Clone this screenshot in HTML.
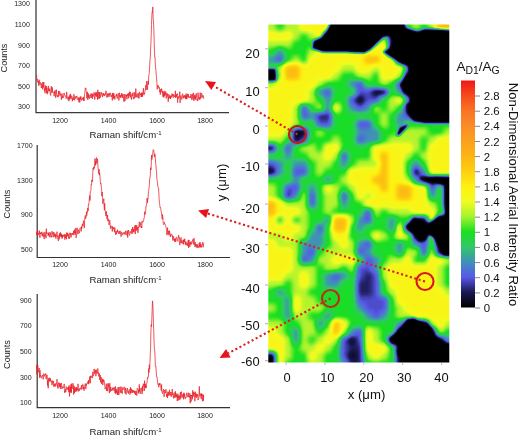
<!DOCTYPE html>
<html><head><meta charset="utf-8"><title>Raman map</title>
<style>
html,body{margin:0;padding:0;background:#fff;}
svg{display:block;font-family:"Liberation Sans",Arial,sans-serif;}
.sp text{font-size:7px;fill:#222;}
.ax{stroke:#3a3a3a;stroke-width:1.25;fill:none;}
.tr{fill:none;stroke:#e8202a;stroke-width:0.75;stroke-linejoin:round;}
.hm text{font-size:12.9px;fill:#111;}
.cb text{font-size:11.4px;fill:#111;}
</style></head>
<body>
<svg width="520" height="435" viewBox="0 0 520 435">
<defs>
<filter id="b1" x="-5%" y="-5%" width="110%" height="110%" color-interpolation-filters="sRGB"><feGaussianBlur stdDeviation="2.4"/></filter>
<filter id="cm" x="-5%" y="-5%" width="110%" height="110%" color-interpolation-filters="sRGB">
<feGaussianBlur stdDeviation="1.3"/>
<feComponentTransfer>
<feFuncR type="table" tableValues="0.000 0.094 0.345 0.251 0.188 0.094 0.643 0.941 1.000 0.992 0.992 0.988 0.984 0.980 0.965 0.941"/>
<feFuncG type="table" tableValues="0.000 0.094 0.345 0.565 0.784 0.878 0.949 0.988 0.941 0.816 0.706 0.627 0.549 0.455 0.290 0.094"/>
<feFuncB type="table" tableValues="0.000 0.314 0.910 0.722 0.408 0.125 0.188 0.125 0.063 0.063 0.078 0.118 0.157 0.141 0.110 0.094"/>
</feComponentTransfer>
</filter>
<clipPath id="hc"><rect x="268.3" y="24.4" width="181" height="338.1"/></clipPath>
<linearGradient id="cbg" x1="0" y1="0" x2="0" y2="1"><stop offset="0.0000" stop-color="#f01818"/><stop offset="0.0667" stop-color="#f64a1c"/><stop offset="0.1333" stop-color="#fa7424"/><stop offset="0.2000" stop-color="#fb8c28"/><stop offset="0.2667" stop-color="#fca01e"/><stop offset="0.3333" stop-color="#fdb414"/><stop offset="0.4000" stop-color="#fdd010"/><stop offset="0.4667" stop-color="#fff010"/><stop offset="0.5333" stop-color="#f0fc20"/><stop offset="0.6000" stop-color="#a4f230"/><stop offset="0.6667" stop-color="#18e020"/><stop offset="0.7333" stop-color="#30c868"/><stop offset="0.8000" stop-color="#4090b8"/><stop offset="0.8667" stop-color="#5858e8"/><stop offset="0.9333" stop-color="#181850"/><stop offset="1.0000" stop-color="#000000"/></linearGradient>
</defs>
<rect width="520" height="435" fill="#fff"/>

<g class="sp">
<path class="ax" d="M36 0V112.5H229"/>
<polyline class="tr" points="36.6,74.7 36.9,80.3 37.2,79.6 37.5,79.1 37.8,82.4 38.1,80.9 38.4,81.3 38.8,85.9 39.1,79.7 39.4,81.0 39.7,84.3 40.0,83.6 40.3,82.3 40.6,84.5 41.0,84.8 41.3,88.0 41.6,83.5 41.9,84.8 42.2,84.8 42.5,89.3 42.8,82.1 43.2,85.9 43.5,87.5 43.8,82.0 44.1,87.2 44.4,90.7 44.7,88.5 45.0,93.2 45.4,85.5 45.7,89.2 46.0,90.2 46.3,86.1 46.6,92.8 46.9,87.8 47.2,94.2 47.6,91.1 47.9,92.5 48.2,86.4 48.5,85.9 48.8,91.0 49.1,88.4 49.4,91.0 49.8,89.4 50.1,92.7 50.4,95.1 50.7,95.5 51.0,90.5 51.3,86.2 51.6,91.0 52.0,93.0 52.3,87.4 52.6,91.5 52.9,92.0 53.2,91.8 53.5,92.8 53.8,93.4 54.2,96.2 54.5,91.7 54.8,93.2 55.1,90.3 55.4,94.1 55.7,97.9 56.0,93.8 56.4,89.6 56.7,94.7 57.0,96.0 57.3,96.8 57.6,96.6 57.9,95.0 58.2,97.2 58.5,90.9 58.9,95.3 59.2,94.5 59.5,91.4 59.8,91.4 60.1,95.6 60.4,94.4 60.7,93.6 61.1,95.9 61.4,99.7 61.7,94.1 62.0,93.6 62.3,94.9 62.6,98.2 62.9,96.5 63.3,97.6 63.6,97.0 63.9,93.3 64.2,92.9 64.5,95.0 64.8,95.4 65.1,95.2 65.5,96.9 65.8,97.2 66.1,98.7 66.4,97.3 66.7,91.9 67.0,95.3 67.3,98.3 67.7,98.6 68.0,99.7 68.3,96.8 68.6,96.8 68.9,101.2 69.2,96.7 69.5,99.3 69.9,94.6 70.2,97.7 70.5,94.0 70.8,99.2 71.1,98.9 71.4,97.5 71.7,95.7 72.1,96.9 72.4,101.2 72.7,97.9 73.0,98.3 73.3,99.3 73.6,99.9 73.9,94.2 74.3,99.3 74.6,100.3 74.9,96.8 75.2,98.0 75.5,98.5 75.8,96.4 76.1,97.1 76.5,97.4 76.8,95.9 77.1,97.5 77.4,99.6 77.7,98.9 78.0,99.3 78.3,97.5 78.7,100.5 79.0,102.3 79.3,97.7 79.6,101.0 79.9,102.4 80.2,96.8 80.5,99.4 80.9,96.4 81.2,98.8 81.5,100.2 81.8,100.4 82.1,98.6 82.4,97.9 82.7,99.2 83.1,97.8 83.4,100.7 83.7,96.9 84.0,101.0 84.3,96.9 84.6,94.3 84.9,92.4 85.3,87.8 85.6,88.5 85.9,88.1 86.2,91.3 86.5,93.1 86.8,98.2 87.1,95.2 87.5,91.8 87.8,99.8 88.1,95.2 88.4,93.6 88.7,97.9 89.0,94.8 89.3,98.7 89.7,98.0 90.0,98.0 90.3,95.6 90.6,96.2 90.9,93.6 91.2,98.1 91.5,96.1 91.9,93.5 92.2,94.3 92.5,98.8 92.8,94.0 93.1,96.6 93.4,94.5 93.7,94.7 94.1,92.4 94.4,95.0 94.7,99.6 95.0,98.4 95.3,93.3 95.6,95.6 95.9,92.2 96.2,94.2 96.6,96.6 96.9,92.2 97.2,96.6 97.5,99.5 97.8,89.8 98.1,99.1 98.4,93.1 98.8,92.3 99.1,94.2 99.4,98.5 99.7,92.1 100.0,97.9 100.3,97.6 100.6,95.3 101.0,92.5 101.3,93.7 101.6,92.5 101.9,95.5 102.2,94.8 102.5,97.2 102.8,95.2 103.2,93.1 103.5,95.2 103.8,93.4 104.1,96.0 104.4,96.0 104.7,94.6 105.0,95.2 105.4,93.4 105.7,94.4 106.0,90.8 106.3,95.4 106.6,95.5 106.9,97.5 107.2,95.0 107.6,93.5 107.9,97.0 108.2,95.4 108.5,93.6 108.8,95.7 109.1,96.7 109.4,93.2 109.8,95.3 110.1,94.6 110.4,92.9 110.7,93.0 111.0,96.5 111.3,97.0 111.6,95.1 112.0,96.2 112.3,100.4 112.6,92.9 112.9,95.9 113.2,94.3 113.5,98.8 113.8,93.0 114.2,97.5 114.5,96.4 114.8,99.5 115.1,96.5 115.4,96.7 115.7,96.6 116.0,95.2 116.4,96.1 116.7,93.9 117.0,97.3 117.3,98.6 117.6,96.3 117.9,94.8 118.2,93.3 118.6,94.3 118.9,100.5 119.2,95.4 119.5,92.8 119.8,96.1 120.1,97.5 120.4,95.5 120.8,97.5 121.1,94.8 121.4,96.3 121.7,93.0 122.0,95.1 122.3,98.0 122.6,94.8 123.0,94.0 123.3,97.6 123.6,97.2 123.9,101.7 124.2,94.1 124.5,97.6 124.8,101.2 125.2,100.4 125.5,96.7 125.8,94.4 126.1,96.4 126.4,95.0 126.7,98.7 127.0,99.3 127.4,94.0 127.7,94.9 128.0,96.1 128.3,93.0 128.6,98.3 128.9,97.0 129.2,93.6 129.6,91.6 129.9,95.9 130.2,92.0 130.5,97.3 130.8,95.1 131.1,96.3 131.4,99.6 131.8,95.2 132.1,93.6 132.4,96.1 132.7,95.9 133.0,92.4 133.3,98.6 133.6,99.2 133.9,97.2 134.3,98.4 134.6,92.4 134.9,94.8 135.2,97.5 135.5,96.9 135.8,88.6 136.1,96.8 136.5,97.1 136.8,94.5 137.1,93.6 137.4,94.6 137.7,97.2 138.0,97.7 138.3,93.4 138.7,94.9 139.0,98.6 139.3,91.8 139.6,92.7 139.9,95.0 140.2,94.9 140.5,93.6 140.9,95.6 141.2,97.1 141.5,92.9 141.8,97.0 142.1,92.4 142.4,96.6 142.7,93.2 143.1,93.0 143.4,88.2 143.7,94.7 144.0,95.2 144.3,93.0 144.6,93.7 144.9,92.0 145.3,89.1 145.6,87.7 145.9,85.0 146.2,90.0 146.5,81.2 146.8,81.8 147.1,85.9 147.5,89.6 147.8,83.0 148.1,80.9 148.4,84.6 148.7,76.6 149.0,74.5 149.3,72.6 149.7,65.3 150.0,59.6 150.3,57.5 150.6,49.2 150.9,43.6 151.2,35.4 151.5,24.5 151.9,15.2 152.2,11.5 152.5,12.4 152.8,6.9 153.1,17.0 153.4,20.4 153.7,25.2 154.1,38.2 154.4,49.1 154.7,56.9 155.0,56.8 155.3,64.7 155.6,67.7 155.9,70.4 156.3,75.7 156.6,78.8 156.9,82.5 157.2,89.3 157.5,87.1 157.8,85.0 158.1,86.4 158.5,86.0 158.8,88.2 159.1,88.2 159.4,87.4 159.7,92.0 160.0,91.1 160.3,94.7 160.7,89.0 161.0,91.6 161.3,90.8 161.6,88.6 161.9,90.0 162.2,93.0 162.5,91.2 162.9,96.7 163.2,92.4 163.5,93.3 163.8,97.6 164.1,90.8 164.4,95.8 164.7,92.6 165.1,95.3 165.4,92.1 165.7,91.4 166.0,96.6 166.3,98.4 166.6,95.1 166.9,92.9 167.3,95.9 167.6,96.5 167.9,94.0 168.2,101.7 168.5,96.8 168.8,98.6 169.1,94.6 169.5,97.1 169.8,98.1 170.1,96.3 170.4,99.0 170.7,95.6 171.0,97.2 171.3,96.5 171.6,97.4 172.0,93.5 172.3,96.0 172.6,94.5 172.9,94.7 173.2,97.7 173.5,94.5 173.8,95.0 174.2,95.2 174.5,96.9 174.8,97.0 175.1,94.1 175.4,90.8 175.7,98.0 176.0,94.8 176.4,96.9 176.7,94.2 177.0,95.0 177.3,93.6 177.6,102.7 177.9,97.5 178.2,98.5 178.6,96.4 178.9,97.9 179.2,97.7 179.5,94.6 179.8,91.7 180.1,102.9 180.4,97.0 180.8,95.5 181.1,96.2 181.4,97.1 181.7,99.5 182.0,98.5 182.3,94.6 182.6,93.7 183.0,96.1 183.3,98.3 183.6,96.1 183.9,96.9 184.2,95.0 184.5,96.1 184.8,97.8 185.2,95.9 185.5,99.1 185.8,94.4 186.1,93.6 186.4,99.2 186.7,95.4 187.0,98.7 187.4,93.8 187.7,94.3 188.0,96.9 188.3,94.0 188.6,97.4 188.9,97.9 189.2,97.8 189.6,96.8 189.9,97.2 190.2,96.1 190.5,97.9 190.8,94.6 191.1,94.0 191.4,97.6 191.8,99.8 192.1,94.7 192.4,93.8 192.7,96.9 193.0,99.5 193.3,95.8 193.6,92.9 194.0,100.9 194.3,95.4 194.6,97.2 194.9,98.5 195.2,95.3 195.5,99.6 195.8,95.8 196.2,93.4 196.5,96.1 196.8,98.6 197.1,100.7 197.4,99.5 197.7,100.9 198.0,92.7 198.4,97.1 198.7,99.0 199.0,99.6 199.3,99.1 199.6,97.3 199.9,99.6 200.2,92.6 200.6,98.3 200.9,98.4 201.2,95.8 201.5,93.1 201.8,93.4 202.1,97.7 202.4,95.9 202.8,96.2 203.1,95.3 203.4,95.9 203.7,98.8"/>
<text x="29.8" y="6.2" text-anchor="end">1300</text><text x="29.8" y="27.2" text-anchor="end">1100</text><text x="29.8" y="47.7" text-anchor="end">900</text><text x="29.8" y="68.2" text-anchor="end">700</text><text x="29.8" y="89.2" text-anchor="end">500</text><text x="29.8" y="109.2" text-anchor="end">300</text><text x="60.0" y="123.0" text-anchor="middle">1200</text><text x="108.5" y="123.0" text-anchor="middle">1400</text><text x="157.0" y="123.0" text-anchor="middle">1600</text><text x="205.0" y="123.0" text-anchor="middle">1800</text>
<text x="125.5" y="138" text-anchor="middle" style="font-size:9.6px">Raman shift/cm<tspan dy="-3.2" style="font-size:6px">-1</tspan></text>
<text transform="translate(7.3,58) rotate(-90)" text-anchor="middle" style="font-size:9.1px">Counts</text>

<path class="ax" style="stroke:#333;stroke-width:1.2" d="M37.2 145V257.5H230"/>
<polyline class="tr" points="36.6,235.2 36.9,231.8 37.2,235.2 37.5,229.1 37.8,232.4 38.1,235.1 38.4,233.5 38.8,234.1 39.1,233.3 39.4,230.7 39.7,236.7 40.0,237.8 40.3,232.5 40.6,233.8 41.0,233.1 41.3,232.5 41.6,234.1 41.9,231.8 42.2,236.0 42.5,233.8 42.8,236.0 43.2,236.8 43.5,232.7 43.8,232.9 44.1,239.1 44.4,237.1 44.7,233.8 45.0,231.9 45.4,236.2 45.7,235.1 46.0,238.2 46.3,228.7 46.6,233.7 46.9,232.8 47.2,233.4 47.6,232.8 47.9,233.7 48.2,236.0 48.5,233.4 48.8,235.1 49.1,232.2 49.4,237.2 49.8,236.8 50.1,233.9 50.4,232.5 50.7,235.3 51.0,237.4 51.3,236.0 51.6,237.0 52.0,231.2 52.3,233.7 52.6,232.8 52.9,235.2 53.2,237.3 53.5,233.2 53.8,232.0 54.2,234.7 54.5,236.2 54.8,233.5 55.1,237.1 55.4,234.3 55.7,238.0 56.0,238.6 56.4,234.9 56.7,235.5 57.0,231.7 57.3,237.0 57.6,236.3 57.9,239.1 58.2,240.9 58.5,240.7 58.9,235.3 59.2,239.3 59.5,233.7 59.8,233.0 60.1,237.1 60.4,232.4 60.7,235.9 61.1,233.7 61.4,237.0 61.7,234.1 62.0,238.7 62.3,234.9 62.6,237.5 62.9,236.7 63.3,234.8 63.6,235.9 63.9,236.5 64.2,234.5 64.5,234.3 64.8,239.6 65.1,234.8 65.5,234.5 65.8,238.0 66.1,235.1 66.4,239.3 66.7,232.5 67.0,236.5 67.3,236.1 67.7,232.9 68.0,236.1 68.3,234.3 68.6,238.2 68.9,237.0 69.2,238.9 69.5,235.9 69.9,232.8 70.2,234.7 70.5,233.0 70.8,237.6 71.1,237.1 71.4,236.0 71.7,233.3 72.1,233.8 72.4,234.5 72.7,232.9 73.0,234.6 73.3,234.1 73.6,230.8 73.9,235.2 74.3,233.2 74.6,229.5 74.9,233.0 75.2,231.4 75.5,234.4 75.8,227.9 76.1,237.9 76.5,235.0 76.8,234.6 77.1,227.8 77.4,230.6 77.7,231.8 78.0,234.0 78.3,229.7 78.7,230.0 79.0,231.6 79.3,233.2 79.6,231.9 79.9,228.3 80.2,227.7 80.5,227.8 80.9,227.9 81.2,231.4 81.5,226.5 81.8,228.6 82.1,225.4 82.4,223.8 82.7,226.0 83.1,226.2 83.4,220.6 83.7,221.5 84.0,223.1 84.3,228.1 84.6,220.1 84.9,217.5 85.3,215.4 85.6,218.8 85.9,217.7 86.2,216.1 86.5,211.8 86.8,215.5 87.1,211.6 87.5,212.3 87.8,207.9 88.1,210.9 88.4,204.6 88.7,205.0 89.0,202.6 89.3,199.0 89.7,195.6 90.0,200.5 90.3,191.8 90.6,190.8 90.9,190.6 91.2,184.2 91.5,184.8 91.9,179.8 92.2,182.0 92.5,180.2 92.8,172.8 93.1,168.1 93.4,169.6 93.7,166.8 94.1,168.2 94.4,168.4 94.7,164.1 95.0,158.5 95.3,165.6 95.6,161.5 95.9,164.4 96.2,159.3 96.6,157.6 96.9,163.3 97.2,162.1 97.5,158.9 97.8,163.8 98.1,168.2 98.4,170.2 98.8,173.9 99.1,169.3 99.4,175.2 99.7,173.2 100.0,176.0 100.3,182.1 100.6,184.2 101.0,183.4 101.3,187.2 101.6,189.2 101.9,196.1 102.2,192.0 102.5,198.4 102.8,203.8 103.2,201.7 103.5,201.0 103.8,198.6 104.1,206.3 104.4,210.2 104.7,203.3 105.0,209.5 105.4,211.9 105.7,215.1 106.0,216.1 106.3,211.2 106.6,216.6 106.9,218.3 107.2,219.2 107.6,215.0 107.9,221.1 108.2,219.0 108.5,220.7 108.8,221.5 109.1,224.9 109.4,221.8 109.8,220.1 110.1,224.7 110.4,227.4 110.7,228.8 111.0,225.7 111.3,227.3 111.6,227.4 112.0,227.5 112.3,231.5 112.6,226.4 112.9,228.1 113.2,229.2 113.5,228.7 113.8,227.4 114.2,229.8 114.5,232.2 114.8,227.6 115.1,231.7 115.4,232.6 115.7,234.9 116.0,231.3 116.4,234.0 116.7,232.9 117.0,230.7 117.3,231.9 117.6,229.6 117.9,231.5 118.2,233.3 118.6,233.2 118.9,233.8 119.2,231.0 119.5,232.6 119.8,233.8 120.1,230.8 120.4,232.7 120.8,234.1 121.1,236.7 121.4,231.9 121.7,232.5 122.0,232.9 122.3,234.1 122.6,235.1 123.0,233.6 123.3,232.5 123.6,233.4 123.9,233.4 124.2,234.1 124.5,232.2 124.8,232.4 125.2,234.7 125.5,231.0 125.8,230.9 126.1,230.8 126.4,233.0 126.7,233.1 127.0,235.4 127.4,230.7 127.7,237.6 128.0,233.3 128.3,233.1 128.6,230.1 128.9,232.1 129.2,234.4 129.6,235.4 129.9,233.7 130.2,231.5 130.5,231.6 130.8,232.1 131.1,233.2 131.4,231.9 131.8,228.9 132.1,233.9 132.4,231.0 132.7,227.0 133.0,229.5 133.3,231.9 133.6,229.0 133.9,232.3 134.3,230.4 134.6,226.5 134.9,225.5 135.2,234.1 135.5,228.1 135.8,224.9 136.1,230.8 136.5,228.6 136.8,225.4 137.1,230.0 137.4,227.5 137.7,228.5 138.0,232.8 138.3,227.0 138.7,228.0 139.0,225.0 139.3,221.8 139.6,224.8 139.9,227.0 140.2,224.6 140.5,224.7 140.9,222.3 141.2,227.7 141.5,226.5 141.8,228.0 142.1,220.9 142.4,221.7 142.7,222.5 143.1,221.9 143.4,220.7 143.7,220.6 144.0,218.1 144.3,217.4 144.6,211.7 144.9,213.0 145.3,214.4 145.6,212.4 145.9,206.5 146.2,206.7 146.5,205.3 146.8,202.3 147.1,198.1 147.5,202.8 147.8,199.3 148.1,199.2 148.4,191.1 148.7,190.5 149.0,188.3 149.3,185.5 149.7,178.8 150.0,177.6 150.3,175.2 150.6,167.6 150.9,170.0 151.2,167.4 151.5,155.0 151.9,159.5 152.2,157.6 152.5,156.1 152.8,153.1 153.1,149.9 153.4,149.6 153.7,150.3 154.1,153.0 154.4,157.2 154.7,154.7 155.0,153.9 155.3,157.7 155.6,163.6 155.9,164.3 156.3,170.5 156.6,173.1 156.9,179.4 157.2,180.5 157.5,182.7 157.8,186.7 158.1,187.5 158.5,187.7 158.8,192.0 159.1,198.6 159.4,202.2 159.7,204.4 160.0,207.4 160.3,207.1 160.7,208.2 161.0,210.6 161.3,212.3 161.6,214.0 161.9,216.3 162.2,219.2 162.5,214.5 162.9,217.4 163.2,223.4 163.5,224.5 163.8,224.8 164.1,224.2 164.4,222.2 164.7,223.6 165.1,224.3 165.4,225.0 165.7,225.7 166.0,227.3 166.3,228.6 166.6,230.6 166.9,235.1 167.3,231.8 167.6,227.6 167.9,233.8 168.2,234.4 168.5,230.9 168.8,233.6 169.1,235.3 169.5,230.7 169.8,233.4 170.1,233.4 170.4,237.0 170.7,234.7 171.0,235.3 171.3,234.6 171.6,234.0 172.0,234.3 172.3,236.9 172.6,235.8 172.9,240.5 173.2,236.4 173.5,236.5 173.8,239.3 174.2,240.5 174.5,238.9 174.8,241.9 175.1,238.3 175.4,238.6 175.7,241.8 176.0,239.5 176.4,237.2 176.7,237.3 177.0,237.6 177.3,240.5 177.6,241.1 177.9,241.4 178.2,239.1 178.6,235.0 178.9,237.4 179.2,237.0 179.5,237.7 179.8,245.1 180.1,241.7 180.4,242.4 180.8,238.4 181.1,237.4 181.4,243.2 181.7,241.6 182.0,240.4 182.3,243.0 182.6,243.5 183.0,243.7 183.3,239.9 183.6,244.4 183.9,239.5 184.2,242.1 184.5,240.5 184.8,238.7 185.2,244.1 185.5,244.6 185.8,241.6 186.1,245.2 186.4,244.5 186.7,243.1 187.0,242.5 187.4,246.0 187.7,243.9 188.0,241.6 188.3,239.8 188.6,247.9 188.9,240.0 189.2,241.1 189.6,245.9 189.9,246.9 190.2,242.4 190.5,244.4 190.8,243.1 191.1,241.4 191.4,244.4 191.8,243.2 192.1,242.5 192.4,241.5 192.7,239.4 193.0,239.6 193.3,243.2 193.6,244.4 194.0,238.1 194.3,242.3 194.6,242.9 194.9,246.6 195.2,242.1 195.5,245.9 195.8,245.2 196.2,247.3 196.5,245.4 196.8,244.0 197.1,247.8 197.4,246.4 197.7,244.4 198.0,247.3 198.4,247.3 198.7,246.3 199.0,247.7 199.3,242.9 199.6,246.8 199.9,242.5 200.2,242.2 200.6,247.4 200.9,244.4 201.2,245.7 201.5,247.3 201.8,245.4 202.1,245.2 202.4,242.9 202.8,242.1 203.1,247.3 203.4,245.7 203.7,243.4"/>
<text x="32.6" y="148.0" text-anchor="end">1700</text><text x="32.6" y="182.5" text-anchor="end">1300</text><text x="32.6" y="217.4" text-anchor="end">900</text><text x="32.6" y="252.2" text-anchor="end">500</text><text x="60.0" y="267.0" text-anchor="middle">1200</text><text x="108.5" y="267.0" text-anchor="middle">1400</text><text x="157.0" y="267.0" text-anchor="middle">1600</text><text x="205.0" y="267.0" text-anchor="middle">1800</text>
<text x="125.5" y="283" text-anchor="middle" style="font-size:9.6px">Raman shift/cm<tspan dy="-3.2" style="font-size:6px">-1</tspan></text>
<text transform="translate(9.5,204) rotate(-90)" text-anchor="middle" style="font-size:9.1px">Counts</text>

<path class="ax" style="stroke:#333;stroke-width:1.2" d="M37.2 294V407.6H230"/>
<polyline class="tr" points="36.6,364.6 36.9,374.3 37.2,365.2 37.5,369.3 37.8,365.4 38.1,370.8 38.4,372.3 38.8,370.4 39.1,368.0 39.4,371.3 39.7,377.8 40.0,370.3 40.3,376.6 40.6,375.3 41.0,376.2 41.3,378.2 41.6,377.1 41.9,376.7 42.2,376.1 42.5,375.0 42.8,376.0 43.2,379.3 43.5,376.3 43.8,373.6 44.1,374.0 44.4,376.4 44.7,375.4 45.0,375.0 45.4,374.1 45.7,373.5 46.0,378.9 46.3,379.1 46.6,374.8 46.9,374.9 47.2,375.2 47.6,385.4 47.9,380.2 48.2,388.2 48.5,378.2 48.8,380.2 49.1,380.4 49.4,381.1 49.8,377.6 50.1,381.9 50.4,378.7 50.7,380.2 51.0,380.9 51.3,380.8 51.6,381.9 52.0,385.2 52.3,380.7 52.6,380.9 52.9,383.3 53.2,381.2 53.5,381.0 53.8,386.7 54.2,384.0 54.5,384.9 54.8,386.3 55.1,383.3 55.4,386.4 55.7,385.5 56.0,383.9 56.4,383.8 56.7,384.0 57.0,379.2 57.3,386.4 57.6,384.6 57.9,388.5 58.2,384.3 58.5,382.7 58.9,382.6 59.2,387.5 59.5,386.7 59.8,382.9 60.1,386.5 60.4,383.9 60.7,388.9 61.1,383.0 61.4,384.0 61.7,385.6 62.0,388.9 62.3,387.3 62.6,386.6 62.9,386.4 63.3,387.5 63.6,387.9 63.9,386.9 64.2,383.9 64.5,392.7 64.8,391.2 65.1,391.7 65.5,389.5 65.8,392.3 66.1,386.5 66.4,387.7 66.7,388.7 67.0,389.9 67.3,387.8 67.7,387.8 68.0,387.4 68.3,390.2 68.6,386.7 68.9,392.2 69.2,385.3 69.5,396.4 69.9,390.1 70.2,391.7 70.5,386.6 70.8,392.5 71.1,384.0 71.4,392.7 71.7,383.6 72.1,387.6 72.4,388.7 72.7,387.7 73.0,383.2 73.3,386.6 73.6,394.6 73.9,385.8 74.3,388.3 74.6,393.1 74.9,386.9 75.2,392.0 75.5,388.4 75.8,388.3 76.1,390.5 76.5,387.2 76.8,391.5 77.1,388.3 77.4,390.2 77.7,389.2 78.0,383.8 78.3,388.4 78.7,391.4 79.0,388.9 79.3,390.5 79.6,388.4 79.9,388.0 80.2,388.1 80.5,388.0 80.9,389.5 81.2,386.9 81.5,385.2 81.8,389.4 82.1,387.9 82.4,387.4 82.7,384.3 83.1,384.6 83.4,389.1 83.7,386.8 84.0,390.7 84.3,389.2 84.6,386.4 84.9,384.7 85.3,383.6 85.6,386.6 85.9,389.0 86.2,384.3 86.5,385.5 86.8,383.6 87.1,384.0 87.5,382.3 87.8,382.1 88.1,381.2 88.4,384.2 88.7,380.0 89.0,383.4 89.3,381.5 89.7,376.5 90.0,379.8 90.3,383.2 90.6,375.9 90.9,376.6 91.2,375.7 91.5,377.5 91.9,376.6 92.2,377.5 92.5,378.1 92.8,371.8 93.1,376.1 93.4,375.9 93.7,375.3 94.1,368.9 94.4,371.0 94.7,373.8 95.0,372.7 95.3,371.0 95.6,369.9 95.9,376.2 96.2,369.7 96.6,372.6 96.9,373.9 97.2,373.4 97.5,370.6 97.8,368.5 98.1,373.0 98.4,372.4 98.8,376.4 99.1,373.6 99.4,373.3 99.7,379.8 100.0,377.9 100.3,375.2 100.6,382.3 101.0,379.4 101.3,377.4 101.6,383.9 101.9,381.2 102.2,380.5 102.5,378.9 102.8,385.0 103.2,379.4 103.5,381.9 103.8,380.1 104.1,380.6 104.4,383.1 104.7,383.1 105.0,389.2 105.4,388.6 105.7,388.0 106.0,386.6 106.3,383.7 106.6,390.9 106.9,387.4 107.2,390.3 107.6,391.1 107.9,383.5 108.2,387.3 108.5,383.6 108.8,384.9 109.1,390.5 109.4,393.1 109.8,383.2 110.1,389.7 110.4,391.7 110.7,387.1 111.0,388.7 111.3,390.9 111.6,390.2 112.0,389.0 112.3,389.3 112.6,387.7 112.9,390.6 113.2,390.7 113.5,388.3 113.8,389.1 114.2,387.2 114.5,390.7 114.8,390.4 115.1,393.2 115.4,386.4 115.7,393.9 116.0,389.8 116.4,392.7 116.7,389.6 117.0,388.6 117.3,394.7 117.6,391.1 117.9,395.1 118.2,387.0 118.6,391.8 118.9,394.7 119.2,392.5 119.5,387.3 119.8,386.9 120.1,387.4 120.4,392.7 120.8,391.1 121.1,386.5 121.4,392.6 121.7,391.6 122.0,393.2 122.3,393.7 122.6,387.6 123.0,389.1 123.3,389.6 123.6,389.2 123.9,388.1 124.2,386.8 124.5,390.7 124.8,391.6 125.2,393.3 125.5,387.9 125.8,392.0 126.1,394.5 126.4,391.3 126.7,390.5 127.0,388.5 127.4,388.0 127.7,392.4 128.0,392.6 128.3,391.4 128.6,393.6 128.9,390.8 129.2,389.3 129.6,390.4 129.9,394.6 130.2,393.5 130.5,387.2 130.8,393.1 131.1,388.5 131.4,388.8 131.8,391.3 132.1,393.0 132.4,389.9 132.7,392.7 133.0,390.9 133.3,390.1 133.6,392.2 133.9,391.0 134.3,391.2 134.6,393.5 134.9,390.8 135.2,392.0 135.5,395.0 135.8,391.2 136.1,391.0 136.5,391.8 136.8,395.6 137.1,388.3 137.4,388.5 137.7,388.5 138.0,389.3 138.3,393.4 138.7,389.8 139.0,392.5 139.3,384.4 139.6,391.3 139.9,388.2 140.2,393.8 140.5,392.8 140.9,391.1 141.2,387.8 141.5,388.1 141.8,388.6 142.1,394.0 142.4,386.2 142.7,391.3 143.1,384.6 143.4,383.7 143.7,386.2 144.0,385.5 144.3,390.9 144.6,380.7 144.9,386.4 145.3,383.9 145.6,388.2 145.9,385.6 146.2,387.8 146.5,384.6 146.8,383.1 147.1,381.5 147.5,377.4 147.8,378.4 148.1,377.3 148.4,376.0 148.7,368.6 149.0,372.6 149.3,364.8 149.7,369.1 150.0,361.6 150.3,352.8 150.6,347.7 150.9,332.0 151.2,324.7 151.5,326.5 151.9,317.2 152.2,308.7 152.5,300.9 152.8,303.6 153.1,310.6 153.4,322.5 153.7,329.7 154.1,343.2 154.4,348.3 154.7,350.3 155.0,355.4 155.3,365.9 155.6,366.6 155.9,366.2 156.3,373.0 156.6,376.7 156.9,376.5 157.2,378.5 157.5,381.2 157.8,384.1 158.1,385.0 158.5,384.7 158.8,387.2 159.1,383.2 159.4,385.0 159.7,385.1 160.0,383.2 160.3,384.8 160.7,385.7 161.0,388.8 161.3,390.6 161.6,384.5 161.9,392.4 162.2,392.6 162.5,393.5 162.9,390.9 163.2,390.6 163.5,389.2 163.8,392.6 164.1,396.7 164.4,391.5 164.7,390.0 165.1,392.6 165.4,393.1 165.7,391.5 166.0,389.3 166.3,393.3 166.6,396.9 166.9,394.8 167.3,393.8 167.6,398.1 167.9,391.6 168.2,395.6 168.5,392.4 168.8,393.3 169.1,394.7 169.5,389.8 169.8,395.4 170.1,395.8 170.4,393.4 170.7,392.0 171.0,394.2 171.3,396.8 171.6,392.5 172.0,392.8 172.3,389.1 172.6,395.0 172.9,393.9 173.2,396.0 173.5,398.4 173.8,394.4 174.2,392.5 174.5,397.3 174.8,396.5 175.1,397.8 175.4,391.3 175.7,396.4 176.0,393.4 176.4,397.1 176.7,394.7 177.0,396.5 177.3,401.0 177.6,394.8 177.9,393.7 178.2,400.4 178.6,395.5 178.9,396.2 179.2,397.9 179.5,395.8 179.8,400.1 180.1,394.5 180.4,392.2 180.8,398.5 181.1,395.4 181.4,391.6 181.7,395.0 182.0,396.6 182.3,397.7 182.6,394.9 183.0,395.7 183.3,393.8 183.6,399.3 183.9,392.7 184.2,396.5 184.5,393.8 184.8,397.3 185.2,398.8 185.5,397.0 185.8,398.0 186.1,396.5 186.4,393.9 186.7,392.8 187.0,395.1 187.4,397.0 187.7,396.8 188.0,394.1 188.3,392.7 188.6,396.5 188.9,396.0 189.2,397.6 189.6,395.2 189.9,393.3 190.2,403.2 190.5,395.1 190.8,397.2 191.1,401.7 191.4,395.0 191.8,396.0 192.1,394.9 192.4,399.3 192.7,390.3 193.0,395.6 193.3,396.7 193.6,391.9 194.0,394.2 194.3,393.7 194.6,392.9 194.9,401.2 195.2,391.6 195.5,396.8 195.8,395.2 196.2,393.6 196.5,397.8 196.8,395.2 197.1,394.0 197.4,396.1 197.7,394.7 198.0,400.1 198.4,399.1 198.7,399.0 199.0,395.1 199.3,386.4 199.6,395.4 199.9,396.5 200.2,396.3 200.6,393.6 200.9,394.3 201.2,399.1 201.5,393.5 201.8,396.2 202.1,394.0 202.4,401.3 202.8,400.2 203.1,394.6 203.4,400.8 203.7,395.2"/>
<text x="31.6" y="302.7" text-anchor="end">900</text><text x="31.6" y="328.4" text-anchor="end">700</text><text x="31.6" y="354.2" text-anchor="end">500</text><text x="31.6" y="379.9" text-anchor="end">300</text><text x="31.6" y="405.4" text-anchor="end">100</text><text x="60.0" y="417.5" text-anchor="middle">1200</text><text x="108.5" y="417.5" text-anchor="middle">1400</text><text x="157.0" y="417.5" text-anchor="middle">1600</text><text x="205.0" y="417.5" text-anchor="middle">1800</text>
<text x="125.5" y="435" text-anchor="middle" style="font-size:9.6px">Raman shift/cm<tspan dy="-3.2" style="font-size:6px">-1</tspan></text>
<text transform="translate(9.5,354.5) rotate(-90)" text-anchor="middle" style="font-size:9.1px">Counts</text>
</g>

<g clip-path="url(#hc)">
<g filter="url(#cm)">
<g filter="url(#b1)"><rect x="260" y="16" width="8.5" height="8.5" fill="rgb(106,106,106)"/><rect x="268" y="16" width="8.5" height="8.5" fill="rgb(106,106,106)"/><rect x="276" y="16" width="8.5" height="8.5" fill="rgb(83,83,83)"/><rect x="284" y="16" width="8.5" height="8.5" fill="rgb(106,106,106)"/><rect x="292" y="16" width="8.5" height="8.5" fill="rgb(106,106,106)"/><rect x="300" y="16" width="8.5" height="8.5" fill="rgb(129,129,129)"/><rect x="308" y="16" width="8.5" height="8.5" fill="rgb(129,129,129)"/><rect x="316" y="16" width="8.5" height="8.5" fill="rgb(129,129,129)"/><rect x="324" y="16" width="8.5" height="8.5" fill="rgb(129,129,129)"/><rect x="332" y="16" width="8.5" height="8.5" fill="rgb(0,0,0)"/><rect x="340" y="16" width="8.5" height="8.5" fill="rgb(0,0,0)"/><rect x="348" y="16" width="8.5" height="8.5" fill="rgb(0,0,0)"/><rect x="356" y="16" width="8.5" height="8.5" fill="rgb(0,0,0)"/><rect x="364" y="16" width="8.5" height="8.5" fill="rgb(0,0,0)"/><rect x="372" y="16" width="8.5" height="8.5" fill="rgb(0,0,0)"/><rect x="380" y="16" width="8.5" height="8.5" fill="rgb(0,0,0)"/><rect x="388" y="16" width="8.5" height="8.5" fill="rgb(0,0,0)"/><rect x="396" y="16" width="8.5" height="8.5" fill="rgb(0,0,0)"/><rect x="404" y="16" width="8.5" height="8.5" fill="rgb(83,83,83)"/><rect x="412" y="16" width="8.5" height="8.5" fill="rgb(106,106,106)"/><rect x="420" y="16" width="8.5" height="8.5" fill="rgb(83,83,83)"/><rect x="428" y="16" width="8.5" height="8.5" fill="rgb(106,106,106)"/><rect x="436" y="16" width="8.5" height="8.5" fill="rgb(166,166,166)"/><rect x="444" y="16" width="8.5" height="8.5" fill="rgb(166,166,166)"/><rect x="452" y="16" width="8.5" height="8.5" fill="rgb(166,166,166)"/><rect x="260" y="24" width="8.5" height="8.5" fill="rgb(106,106,106)"/><rect x="268" y="24" width="8.5" height="8.5" fill="rgb(106,106,106)"/><rect x="276" y="24" width="8.5" height="8.5" fill="rgb(83,83,83)"/><rect x="284" y="24" width="8.5" height="8.5" fill="rgb(106,106,106)"/><rect x="292" y="24" width="8.5" height="8.5" fill="rgb(106,106,106)"/><rect x="300" y="24" width="8.5" height="8.5" fill="rgb(129,129,129)"/><rect x="308" y="24" width="8.5" height="8.5" fill="rgb(129,129,129)"/><rect x="316" y="24" width="8.5" height="8.5" fill="rgb(129,129,129)"/><rect x="324" y="24" width="8.5" height="8.5" fill="rgb(129,129,129)"/><rect x="332" y="24" width="8.5" height="8.5" fill="rgb(0,0,0)"/><rect x="340" y="24" width="8.5" height="8.5" fill="rgb(0,0,0)"/><rect x="348" y="24" width="8.5" height="8.5" fill="rgb(0,0,0)"/><rect x="356" y="24" width="8.5" height="8.5" fill="rgb(0,0,0)"/><rect x="364" y="24" width="8.5" height="8.5" fill="rgb(0,0,0)"/><rect x="372" y="24" width="8.5" height="8.5" fill="rgb(0,0,0)"/><rect x="380" y="24" width="8.5" height="8.5" fill="rgb(0,0,0)"/><rect x="388" y="24" width="8.5" height="8.5" fill="rgb(0,0,0)"/><rect x="396" y="24" width="8.5" height="8.5" fill="rgb(0,0,0)"/><rect x="404" y="24" width="8.5" height="8.5" fill="rgb(83,83,83)"/><rect x="412" y="24" width="8.5" height="8.5" fill="rgb(106,106,106)"/><rect x="420" y="24" width="8.5" height="8.5" fill="rgb(83,83,83)"/><rect x="428" y="24" width="8.5" height="8.5" fill="rgb(106,106,106)"/><rect x="436" y="24" width="8.5" height="8.5" fill="rgb(166,166,166)"/><rect x="444" y="24" width="8.5" height="8.5" fill="rgb(166,166,166)"/><rect x="452" y="24" width="8.5" height="8.5" fill="rgb(166,166,166)"/><rect x="260" y="32" width="8.5" height="8.5" fill="rgb(129,129,129)"/><rect x="268" y="32" width="8.5" height="8.5" fill="rgb(129,129,129)"/><rect x="276" y="32" width="8.5" height="8.5" fill="rgb(129,129,129)"/><rect x="284" y="32" width="8.5" height="8.5" fill="rgb(129,129,129)"/><rect x="292" y="32" width="8.5" height="8.5" fill="rgb(106,106,106)"/><rect x="300" y="32" width="8.5" height="8.5" fill="rgb(83,83,83)"/><rect x="308" y="32" width="8.5" height="8.5" fill="rgb(106,106,106)"/><rect x="316" y="32" width="8.5" height="8.5" fill="rgb(129,129,129)"/><rect x="324" y="32" width="8.5" height="8.5" fill="rgb(0,0,0)"/><rect x="332" y="32" width="8.5" height="8.5" fill="rgb(0,0,0)"/><rect x="340" y="32" width="8.5" height="8.5" fill="rgb(0,0,0)"/><rect x="348" y="32" width="8.5" height="8.5" fill="rgb(0,0,0)"/><rect x="356" y="32" width="8.5" height="8.5" fill="rgb(0,0,0)"/><rect x="364" y="32" width="8.5" height="8.5" fill="rgb(0,0,0)"/><rect x="372" y="32" width="8.5" height="8.5" fill="rgb(0,0,0)"/><rect x="380" y="32" width="8.5" height="8.5" fill="rgb(83,83,83)"/><rect x="388" y="32" width="8.5" height="8.5" fill="rgb(0,0,0)"/><rect x="396" y="32" width="8.5" height="8.5" fill="rgb(0,0,0)"/><rect x="404" y="32" width="8.5" height="8.5" fill="rgb(0,0,0)"/><rect x="412" y="32" width="8.5" height="8.5" fill="rgb(0,0,0)"/><rect x="420" y="32" width="8.5" height="8.5" fill="rgb(0,0,0)"/><rect x="428" y="32" width="8.5" height="8.5" fill="rgb(0,0,0)"/><rect x="436" y="32" width="8.5" height="8.5" fill="rgb(0,0,0)"/><rect x="444" y="32" width="8.5" height="8.5" fill="rgb(0,0,0)"/><rect x="452" y="32" width="8.5" height="8.5" fill="rgb(0,0,0)"/><rect x="260" y="40" width="8.5" height="8.5" fill="rgb(106,106,106)"/><rect x="268" y="40" width="8.5" height="8.5" fill="rgb(106,106,106)"/><rect x="276" y="40" width="8.5" height="8.5" fill="rgb(106,106,106)"/><rect x="284" y="40" width="8.5" height="8.5" fill="rgb(106,106,106)"/><rect x="292" y="40" width="8.5" height="8.5" fill="rgb(83,83,83)"/><rect x="300" y="40" width="8.5" height="8.5" fill="rgb(83,83,83)"/><rect x="308" y="40" width="8.5" height="8.5" fill="rgb(83,83,83)"/><rect x="316" y="40" width="8.5" height="8.5" fill="rgb(0,0,0)"/><rect x="324" y="40" width="8.5" height="8.5" fill="rgb(0,0,0)"/><rect x="332" y="40" width="8.5" height="8.5" fill="rgb(0,0,0)"/><rect x="340" y="40" width="8.5" height="8.5" fill="rgb(0,0,0)"/><rect x="348" y="40" width="8.5" height="8.5" fill="rgb(0,0,0)"/><rect x="356" y="40" width="8.5" height="8.5" fill="rgb(0,0,0)"/><rect x="364" y="40" width="8.5" height="8.5" fill="rgb(83,83,83)"/><rect x="372" y="40" width="8.5" height="8.5" fill="rgb(106,106,106)"/><rect x="380" y="40" width="8.5" height="8.5" fill="rgb(129,129,129)"/><rect x="388" y="40" width="8.5" height="8.5" fill="rgb(0,0,0)"/><rect x="396" y="40" width="8.5" height="8.5" fill="rgb(0,0,0)"/><rect x="404" y="40" width="8.5" height="8.5" fill="rgb(0,0,0)"/><rect x="412" y="40" width="8.5" height="8.5" fill="rgb(0,0,0)"/><rect x="420" y="40" width="8.5" height="8.5" fill="rgb(0,0,0)"/><rect x="428" y="40" width="8.5" height="8.5" fill="rgb(0,0,0)"/><rect x="436" y="40" width="8.5" height="8.5" fill="rgb(0,0,0)"/><rect x="444" y="40" width="8.5" height="8.5" fill="rgb(0,0,0)"/><rect x="452" y="40" width="8.5" height="8.5" fill="rgb(0,0,0)"/><rect x="260" y="48" width="8.5" height="8.5" fill="rgb(83,83,83)"/><rect x="268" y="48" width="8.5" height="8.5" fill="rgb(83,83,83)"/><rect x="276" y="48" width="8.5" height="8.5" fill="rgb(51,51,51)"/><rect x="284" y="48" width="8.5" height="8.5" fill="rgb(83,83,83)"/><rect x="292" y="48" width="8.5" height="8.5" fill="rgb(83,83,83)"/><rect x="300" y="48" width="8.5" height="8.5" fill="rgb(83,83,83)"/><rect x="308" y="48" width="8.5" height="8.5" fill="rgb(106,106,106)"/><rect x="316" y="48" width="8.5" height="8.5" fill="rgb(129,129,129)"/><rect x="324" y="48" width="8.5" height="8.5" fill="rgb(129,129,129)"/><rect x="332" y="48" width="8.5" height="8.5" fill="rgb(129,129,129)"/><rect x="340" y="48" width="8.5" height="8.5" fill="rgb(129,129,129)"/><rect x="348" y="48" width="8.5" height="8.5" fill="rgb(129,129,129)"/><rect x="356" y="48" width="8.5" height="8.5" fill="rgb(129,129,129)"/><rect x="364" y="48" width="8.5" height="8.5" fill="rgb(129,129,129)"/><rect x="372" y="48" width="8.5" height="8.5" fill="rgb(129,129,129)"/><rect x="380" y="48" width="8.5" height="8.5" fill="rgb(129,129,129)"/><rect x="388" y="48" width="8.5" height="8.5" fill="rgb(0,0,0)"/><rect x="396" y="48" width="8.5" height="8.5" fill="rgb(0,0,0)"/><rect x="404" y="48" width="8.5" height="8.5" fill="rgb(0,0,0)"/><rect x="412" y="48" width="8.5" height="8.5" fill="rgb(0,0,0)"/><rect x="420" y="48" width="8.5" height="8.5" fill="rgb(0,0,0)"/><rect x="428" y="48" width="8.5" height="8.5" fill="rgb(0,0,0)"/><rect x="436" y="48" width="8.5" height="8.5" fill="rgb(0,0,0)"/><rect x="444" y="48" width="8.5" height="8.5" fill="rgb(0,0,0)"/><rect x="452" y="48" width="8.5" height="8.5" fill="rgb(0,0,0)"/><rect x="260" y="56" width="8.5" height="8.5" fill="rgb(51,51,51)"/><rect x="268" y="56" width="8.5" height="8.5" fill="rgb(51,51,51)"/><rect x="276" y="56" width="8.5" height="8.5" fill="rgb(31,31,31)"/><rect x="284" y="56" width="8.5" height="8.5" fill="rgb(83,83,83)"/><rect x="292" y="56" width="8.5" height="8.5" fill="rgb(106,106,106)"/><rect x="300" y="56" width="8.5" height="8.5" fill="rgb(83,83,83)"/><rect x="308" y="56" width="8.5" height="8.5" fill="rgb(129,129,129)"/><rect x="316" y="56" width="8.5" height="8.5" fill="rgb(129,129,129)"/><rect x="324" y="56" width="8.5" height="8.5" fill="rgb(129,129,129)"/><rect x="332" y="56" width="8.5" height="8.5" fill="rgb(129,129,129)"/><rect x="340" y="56" width="8.5" height="8.5" fill="rgb(129,129,129)"/><rect x="348" y="56" width="8.5" height="8.5" fill="rgb(129,129,129)"/><rect x="356" y="56" width="8.5" height="8.5" fill="rgb(129,129,129)"/><rect x="364" y="56" width="8.5" height="8.5" fill="rgb(166,166,166)"/><rect x="372" y="56" width="8.5" height="8.5" fill="rgb(166,166,166)"/><rect x="380" y="56" width="8.5" height="8.5" fill="rgb(129,129,129)"/><rect x="388" y="56" width="8.5" height="8.5" fill="rgb(129,129,129)"/><rect x="396" y="56" width="8.5" height="8.5" fill="rgb(0,0,0)"/><rect x="404" y="56" width="8.5" height="8.5" fill="rgb(0,0,0)"/><rect x="412" y="56" width="8.5" height="8.5" fill="rgb(0,0,0)"/><rect x="420" y="56" width="8.5" height="8.5" fill="rgb(0,0,0)"/><rect x="428" y="56" width="8.5" height="8.5" fill="rgb(0,0,0)"/><rect x="436" y="56" width="8.5" height="8.5" fill="rgb(0,0,0)"/><rect x="444" y="56" width="8.5" height="8.5" fill="rgb(0,0,0)"/><rect x="452" y="56" width="8.5" height="8.5" fill="rgb(0,0,0)"/><rect x="260" y="64" width="8.5" height="8.5" fill="rgb(83,83,83)"/><rect x="268" y="64" width="8.5" height="8.5" fill="rgb(83,83,83)"/><rect x="276" y="64" width="8.5" height="8.5" fill="rgb(106,106,106)"/><rect x="284" y="64" width="8.5" height="8.5" fill="rgb(166,166,166)"/><rect x="292" y="64" width="8.5" height="8.5" fill="rgb(166,166,166)"/><rect x="300" y="64" width="8.5" height="8.5" fill="rgb(129,129,129)"/><rect x="308" y="64" width="8.5" height="8.5" fill="rgb(129,129,129)"/><rect x="316" y="64" width="8.5" height="8.5" fill="rgb(129,129,129)"/><rect x="324" y="64" width="8.5" height="8.5" fill="rgb(129,129,129)"/><rect x="332" y="64" width="8.5" height="8.5" fill="rgb(129,129,129)"/><rect x="340" y="64" width="8.5" height="8.5" fill="rgb(106,106,106)"/><rect x="348" y="64" width="8.5" height="8.5" fill="rgb(106,106,106)"/><rect x="356" y="64" width="8.5" height="8.5" fill="rgb(129,129,129)"/><rect x="364" y="64" width="8.5" height="8.5" fill="rgb(129,129,129)"/><rect x="372" y="64" width="8.5" height="8.5" fill="rgb(106,106,106)"/><rect x="380" y="64" width="8.5" height="8.5" fill="rgb(129,129,129)"/><rect x="388" y="64" width="8.5" height="8.5" fill="rgb(129,129,129)"/><rect x="396" y="64" width="8.5" height="8.5" fill="rgb(129,129,129)"/><rect x="404" y="64" width="8.5" height="8.5" fill="rgb(51,51,51)"/><rect x="412" y="64" width="8.5" height="8.5" fill="rgb(0,0,0)"/><rect x="420" y="64" width="8.5" height="8.5" fill="rgb(0,0,0)"/><rect x="428" y="64" width="8.5" height="8.5" fill="rgb(0,0,0)"/><rect x="436" y="64" width="8.5" height="8.5" fill="rgb(0,0,0)"/><rect x="444" y="64" width="8.5" height="8.5" fill="rgb(0,0,0)"/><rect x="452" y="64" width="8.5" height="8.5" fill="rgb(0,0,0)"/><rect x="260" y="72" width="8.5" height="8.5" fill="rgb(0,0,0)"/><rect x="268" y="72" width="8.5" height="8.5" fill="rgb(0,0,0)"/><rect x="276" y="72" width="8.5" height="8.5" fill="rgb(106,106,106)"/><rect x="284" y="72" width="8.5" height="8.5" fill="rgb(166,166,166)"/><rect x="292" y="72" width="8.5" height="8.5" fill="rgb(166,166,166)"/><rect x="300" y="72" width="8.5" height="8.5" fill="rgb(129,129,129)"/><rect x="308" y="72" width="8.5" height="8.5" fill="rgb(129,129,129)"/><rect x="316" y="72" width="8.5" height="8.5" fill="rgb(129,129,129)"/><rect x="324" y="72" width="8.5" height="8.5" fill="rgb(129,129,129)"/><rect x="332" y="72" width="8.5" height="8.5" fill="rgb(106,106,106)"/><rect x="340" y="72" width="8.5" height="8.5" fill="rgb(83,83,83)"/><rect x="348" y="72" width="8.5" height="8.5" fill="rgb(83,83,83)"/><rect x="356" y="72" width="8.5" height="8.5" fill="rgb(106,106,106)"/><rect x="364" y="72" width="8.5" height="8.5" fill="rgb(106,106,106)"/><rect x="372" y="72" width="8.5" height="8.5" fill="rgb(83,83,83)"/><rect x="380" y="72" width="8.5" height="8.5" fill="rgb(129,129,129)"/><rect x="388" y="72" width="8.5" height="8.5" fill="rgb(129,129,129)"/><rect x="396" y="72" width="8.5" height="8.5" fill="rgb(106,106,106)"/><rect x="404" y="72" width="8.5" height="8.5" fill="rgb(0,0,0)"/><rect x="412" y="72" width="8.5" height="8.5" fill="rgb(0,0,0)"/><rect x="420" y="72" width="8.5" height="8.5" fill="rgb(0,0,0)"/><rect x="428" y="72" width="8.5" height="8.5" fill="rgb(0,0,0)"/><rect x="436" y="72" width="8.5" height="8.5" fill="rgb(0,0,0)"/><rect x="444" y="72" width="8.5" height="8.5" fill="rgb(0,0,0)"/><rect x="452" y="72" width="8.5" height="8.5" fill="rgb(0,0,0)"/><rect x="260" y="80" width="8.5" height="8.5" fill="rgb(106,106,106)"/><rect x="268" y="80" width="8.5" height="8.5" fill="rgb(106,106,106)"/><rect x="276" y="80" width="8.5" height="8.5" fill="rgb(129,129,129)"/><rect x="284" y="80" width="8.5" height="8.5" fill="rgb(129,129,129)"/><rect x="292" y="80" width="8.5" height="8.5" fill="rgb(129,129,129)"/><rect x="300" y="80" width="8.5" height="8.5" fill="rgb(129,129,129)"/><rect x="308" y="80" width="8.5" height="8.5" fill="rgb(129,129,129)"/><rect x="316" y="80" width="8.5" height="8.5" fill="rgb(106,106,106)"/><rect x="324" y="80" width="8.5" height="8.5" fill="rgb(83,83,83)"/><rect x="332" y="80" width="8.5" height="8.5" fill="rgb(83,83,83)"/><rect x="340" y="80" width="8.5" height="8.5" fill="rgb(83,83,83)"/><rect x="348" y="80" width="8.5" height="8.5" fill="rgb(51,51,51)"/><rect x="356" y="80" width="8.5" height="8.5" fill="rgb(31,31,31)"/><rect x="364" y="80" width="8.5" height="8.5" fill="rgb(83,83,83)"/><rect x="372" y="80" width="8.5" height="8.5" fill="rgb(83,83,83)"/><rect x="380" y="80" width="8.5" height="8.5" fill="rgb(106,106,106)"/><rect x="388" y="80" width="8.5" height="8.5" fill="rgb(83,83,83)"/><rect x="396" y="80" width="8.5" height="8.5" fill="rgb(31,31,31)"/><rect x="404" y="80" width="8.5" height="8.5" fill="rgb(0,0,0)"/><rect x="412" y="80" width="8.5" height="8.5" fill="rgb(0,0,0)"/><rect x="420" y="80" width="8.5" height="8.5" fill="rgb(0,0,0)"/><rect x="428" y="80" width="8.5" height="8.5" fill="rgb(0,0,0)"/><rect x="436" y="80" width="8.5" height="8.5" fill="rgb(0,0,0)"/><rect x="444" y="80" width="8.5" height="8.5" fill="rgb(0,0,0)"/><rect x="452" y="80" width="8.5" height="8.5" fill="rgb(0,0,0)"/><rect x="260" y="88" width="8.5" height="8.5" fill="rgb(129,129,129)"/><rect x="268" y="88" width="8.5" height="8.5" fill="rgb(129,129,129)"/><rect x="276" y="88" width="8.5" height="8.5" fill="rgb(129,129,129)"/><rect x="284" y="88" width="8.5" height="8.5" fill="rgb(129,129,129)"/><rect x="292" y="88" width="8.5" height="8.5" fill="rgb(129,129,129)"/><rect x="300" y="88" width="8.5" height="8.5" fill="rgb(129,129,129)"/><rect x="308" y="88" width="8.5" height="8.5" fill="rgb(106,106,106)"/><rect x="316" y="88" width="8.5" height="8.5" fill="rgb(51,51,51)"/><rect x="324" y="88" width="8.5" height="8.5" fill="rgb(31,31,31)"/><rect x="332" y="88" width="8.5" height="8.5" fill="rgb(83,83,83)"/><rect x="340" y="88" width="8.5" height="8.5" fill="rgb(83,83,83)"/><rect x="348" y="88" width="8.5" height="8.5" fill="rgb(83,83,83)"/><rect x="356" y="88" width="8.5" height="8.5" fill="rgb(31,31,31)"/><rect x="364" y="88" width="8.5" height="8.5" fill="rgb(31,31,31)"/><rect x="372" y="88" width="8.5" height="8.5" fill="rgb(7,7,7)"/><rect x="380" y="88" width="8.5" height="8.5" fill="rgb(7,7,7)"/><rect x="388" y="88" width="8.5" height="8.5" fill="rgb(83,83,83)"/><rect x="396" y="88" width="8.5" height="8.5" fill="rgb(51,51,51)"/><rect x="404" y="88" width="8.5" height="8.5" fill="rgb(0,0,0)"/><rect x="412" y="88" width="8.5" height="8.5" fill="rgb(0,0,0)"/><rect x="420" y="88" width="8.5" height="8.5" fill="rgb(0,0,0)"/><rect x="428" y="88" width="8.5" height="8.5" fill="rgb(0,0,0)"/><rect x="436" y="88" width="8.5" height="8.5" fill="rgb(0,0,0)"/><rect x="444" y="88" width="8.5" height="8.5" fill="rgb(0,0,0)"/><rect x="452" y="88" width="8.5" height="8.5" fill="rgb(0,0,0)"/><rect x="260" y="96" width="8.5" height="8.5" fill="rgb(129,129,129)"/><rect x="268" y="96" width="8.5" height="8.5" fill="rgb(129,129,129)"/><rect x="276" y="96" width="8.5" height="8.5" fill="rgb(129,129,129)"/><rect x="284" y="96" width="8.5" height="8.5" fill="rgb(129,129,129)"/><rect x="292" y="96" width="8.5" height="8.5" fill="rgb(129,129,129)"/><rect x="300" y="96" width="8.5" height="8.5" fill="rgb(129,129,129)"/><rect x="308" y="96" width="8.5" height="8.5" fill="rgb(106,106,106)"/><rect x="316" y="96" width="8.5" height="8.5" fill="rgb(83,83,83)"/><rect x="324" y="96" width="8.5" height="8.5" fill="rgb(51,51,51)"/><rect x="332" y="96" width="8.5" height="8.5" fill="rgb(83,83,83)"/><rect x="340" y="96" width="8.5" height="8.5" fill="rgb(83,83,83)"/><rect x="348" y="96" width="8.5" height="8.5" fill="rgb(31,31,31)"/><rect x="356" y="96" width="8.5" height="8.5" fill="rgb(7,7,7)"/><rect x="364" y="96" width="8.5" height="8.5" fill="rgb(31,31,31)"/><rect x="372" y="96" width="8.5" height="8.5" fill="rgb(31,31,31)"/><rect x="380" y="96" width="8.5" height="8.5" fill="rgb(83,83,83)"/><rect x="388" y="96" width="8.5" height="8.5" fill="rgb(106,106,106)"/><rect x="396" y="96" width="8.5" height="8.5" fill="rgb(129,129,129)"/><rect x="404" y="96" width="8.5" height="8.5" fill="rgb(51,51,51)"/><rect x="412" y="96" width="8.5" height="8.5" fill="rgb(0,0,0)"/><rect x="420" y="96" width="8.5" height="8.5" fill="rgb(0,0,0)"/><rect x="428" y="96" width="8.5" height="8.5" fill="rgb(0,0,0)"/><rect x="436" y="96" width="8.5" height="8.5" fill="rgb(0,0,0)"/><rect x="444" y="96" width="8.5" height="8.5" fill="rgb(31,31,31)"/><rect x="452" y="96" width="8.5" height="8.5" fill="rgb(31,31,31)"/><rect x="260" y="104" width="8.5" height="8.5" fill="rgb(129,129,129)"/><rect x="268" y="104" width="8.5" height="8.5" fill="rgb(129,129,129)"/><rect x="276" y="104" width="8.5" height="8.5" fill="rgb(129,129,129)"/><rect x="284" y="104" width="8.5" height="8.5" fill="rgb(129,129,129)"/><rect x="292" y="104" width="8.5" height="8.5" fill="rgb(106,106,106)"/><rect x="300" y="104" width="8.5" height="8.5" fill="rgb(31,31,31)"/><rect x="308" y="104" width="8.5" height="8.5" fill="rgb(83,83,83)"/><rect x="316" y="104" width="8.5" height="8.5" fill="rgb(106,106,106)"/><rect x="324" y="104" width="8.5" height="8.5" fill="rgb(51,51,51)"/><rect x="332" y="104" width="8.5" height="8.5" fill="rgb(129,129,129)"/><rect x="340" y="104" width="8.5" height="8.5" fill="rgb(83,83,83)"/><rect x="348" y="104" width="8.5" height="8.5" fill="rgb(51,51,51)"/><rect x="356" y="104" width="8.5" height="8.5" fill="rgb(31,31,31)"/><rect x="364" y="104" width="8.5" height="8.5" fill="rgb(51,51,51)"/><rect x="372" y="104" width="8.5" height="8.5" fill="rgb(106,106,106)"/><rect x="380" y="104" width="8.5" height="8.5" fill="rgb(83,83,83)"/><rect x="388" y="104" width="8.5" height="8.5" fill="rgb(106,106,106)"/><rect x="396" y="104" width="8.5" height="8.5" fill="rgb(83,83,83)"/><rect x="404" y="104" width="8.5" height="8.5" fill="rgb(0,0,0)"/><rect x="412" y="104" width="8.5" height="8.5" fill="rgb(0,0,0)"/><rect x="420" y="104" width="8.5" height="8.5" fill="rgb(0,0,0)"/><rect x="428" y="104" width="8.5" height="8.5" fill="rgb(0,0,0)"/><rect x="436" y="104" width="8.5" height="8.5" fill="rgb(0,0,0)"/><rect x="444" y="104" width="8.5" height="8.5" fill="rgb(0,0,0)"/><rect x="452" y="104" width="8.5" height="8.5" fill="rgb(0,0,0)"/><rect x="260" y="112" width="8.5" height="8.5" fill="rgb(129,129,129)"/><rect x="268" y="112" width="8.5" height="8.5" fill="rgb(129,129,129)"/><rect x="276" y="112" width="8.5" height="8.5" fill="rgb(129,129,129)"/><rect x="284" y="112" width="8.5" height="8.5" fill="rgb(129,129,129)"/><rect x="292" y="112" width="8.5" height="8.5" fill="rgb(106,106,106)"/><rect x="300" y="112" width="8.5" height="8.5" fill="rgb(31,31,31)"/><rect x="308" y="112" width="8.5" height="8.5" fill="rgb(51,51,51)"/><rect x="316" y="112" width="8.5" height="8.5" fill="rgb(19,19,19)"/><rect x="324" y="112" width="8.5" height="8.5" fill="rgb(19,19,19)"/><rect x="332" y="112" width="8.5" height="8.5" fill="rgb(83,83,83)"/><rect x="340" y="112" width="8.5" height="8.5" fill="rgb(83,83,83)"/><rect x="348" y="112" width="8.5" height="8.5" fill="rgb(83,83,83)"/><rect x="356" y="112" width="8.5" height="8.5" fill="rgb(83,83,83)"/><rect x="364" y="112" width="8.5" height="8.5" fill="rgb(83,83,83)"/><rect x="372" y="112" width="8.5" height="8.5" fill="rgb(83,83,83)"/><rect x="380" y="112" width="8.5" height="8.5" fill="rgb(106,106,106)"/><rect x="388" y="112" width="8.5" height="8.5" fill="rgb(83,83,83)"/><rect x="396" y="112" width="8.5" height="8.5" fill="rgb(51,51,51)"/><rect x="404" y="112" width="8.5" height="8.5" fill="rgb(31,31,31)"/><rect x="412" y="112" width="8.5" height="8.5" fill="rgb(0,0,0)"/><rect x="420" y="112" width="8.5" height="8.5" fill="rgb(0,0,0)"/><rect x="428" y="112" width="8.5" height="8.5" fill="rgb(0,0,0)"/><rect x="436" y="112" width="8.5" height="8.5" fill="rgb(0,0,0)"/><rect x="444" y="112" width="8.5" height="8.5" fill="rgb(0,0,0)"/><rect x="452" y="112" width="8.5" height="8.5" fill="rgb(0,0,0)"/><rect x="260" y="120" width="8.5" height="8.5" fill="rgb(129,129,129)"/><rect x="268" y="120" width="8.5" height="8.5" fill="rgb(129,129,129)"/><rect x="276" y="120" width="8.5" height="8.5" fill="rgb(129,129,129)"/><rect x="284" y="120" width="8.5" height="8.5" fill="rgb(129,129,129)"/><rect x="292" y="120" width="8.5" height="8.5" fill="rgb(106,106,106)"/><rect x="300" y="120" width="8.5" height="8.5" fill="rgb(83,83,83)"/><rect x="308" y="120" width="8.5" height="8.5" fill="rgb(83,83,83)"/><rect x="316" y="120" width="8.5" height="8.5" fill="rgb(31,31,31)"/><rect x="324" y="120" width="8.5" height="8.5" fill="rgb(31,31,31)"/><rect x="332" y="120" width="8.5" height="8.5" fill="rgb(83,83,83)"/><rect x="340" y="120" width="8.5" height="8.5" fill="rgb(83,83,83)"/><rect x="348" y="120" width="8.5" height="8.5" fill="rgb(83,83,83)"/><rect x="356" y="120" width="8.5" height="8.5" fill="rgb(31,31,31)"/><rect x="364" y="120" width="8.5" height="8.5" fill="rgb(31,31,31)"/><rect x="372" y="120" width="8.5" height="8.5" fill="rgb(83,83,83)"/><rect x="380" y="120" width="8.5" height="8.5" fill="rgb(106,106,106)"/><rect x="388" y="120" width="8.5" height="8.5" fill="rgb(83,83,83)"/><rect x="396" y="120" width="8.5" height="8.5" fill="rgb(51,51,51)"/><rect x="404" y="120" width="8.5" height="8.5" fill="rgb(83,83,83)"/><rect x="412" y="120" width="8.5" height="8.5" fill="rgb(83,83,83)"/><rect x="420" y="120" width="8.5" height="8.5" fill="rgb(83,83,83)"/><rect x="428" y="120" width="8.5" height="8.5" fill="rgb(83,83,83)"/><rect x="436" y="120" width="8.5" height="8.5" fill="rgb(83,83,83)"/><rect x="444" y="120" width="8.5" height="8.5" fill="rgb(83,83,83)"/><rect x="452" y="120" width="8.5" height="8.5" fill="rgb(83,83,83)"/><rect x="260" y="128" width="8.5" height="8.5" fill="rgb(129,129,129)"/><rect x="268" y="128" width="8.5" height="8.5" fill="rgb(129,129,129)"/><rect x="276" y="128" width="8.5" height="8.5" fill="rgb(129,129,129)"/><rect x="284" y="128" width="8.5" height="8.5" fill="rgb(106,106,106)"/><rect x="292" y="128" width="8.5" height="8.5" fill="rgb(0,0,0)"/><rect x="300" y="128" width="8.5" height="8.5" fill="rgb(7,7,7)"/><rect x="308" y="128" width="8.5" height="8.5" fill="rgb(83,83,83)"/><rect x="316" y="128" width="8.5" height="8.5" fill="rgb(106,106,106)"/><rect x="324" y="128" width="8.5" height="8.5" fill="rgb(83,83,83)"/><rect x="332" y="128" width="8.5" height="8.5" fill="rgb(83,83,83)"/><rect x="340" y="128" width="8.5" height="8.5" fill="rgb(83,83,83)"/><rect x="348" y="128" width="8.5" height="8.5" fill="rgb(83,83,83)"/><rect x="356" y="128" width="8.5" height="8.5" fill="rgb(51,51,51)"/><rect x="364" y="128" width="8.5" height="8.5" fill="rgb(51,51,51)"/><rect x="372" y="128" width="8.5" height="8.5" fill="rgb(51,51,51)"/><rect x="380" y="128" width="8.5" height="8.5" fill="rgb(83,83,83)"/><rect x="388" y="128" width="8.5" height="8.5" fill="rgb(83,83,83)"/><rect x="396" y="128" width="8.5" height="8.5" fill="rgb(106,106,106)"/><rect x="404" y="128" width="8.5" height="8.5" fill="rgb(106,106,106)"/><rect x="412" y="128" width="8.5" height="8.5" fill="rgb(106,106,106)"/><rect x="420" y="128" width="8.5" height="8.5" fill="rgb(106,106,106)"/><rect x="428" y="128" width="8.5" height="8.5" fill="rgb(83,83,83)"/><rect x="436" y="128" width="8.5" height="8.5" fill="rgb(83,83,83)"/><rect x="444" y="128" width="8.5" height="8.5" fill="rgb(106,106,106)"/><rect x="452" y="128" width="8.5" height="8.5" fill="rgb(106,106,106)"/><rect x="260" y="136" width="8.5" height="8.5" fill="rgb(106,106,106)"/><rect x="268" y="136" width="8.5" height="8.5" fill="rgb(106,106,106)"/><rect x="276" y="136" width="8.5" height="8.5" fill="rgb(106,106,106)"/><rect x="284" y="136" width="8.5" height="8.5" fill="rgb(83,83,83)"/><rect x="292" y="136" width="8.5" height="8.5" fill="rgb(7,7,7)"/><rect x="300" y="136" width="8.5" height="8.5" fill="rgb(31,31,31)"/><rect x="308" y="136" width="8.5" height="8.5" fill="rgb(83,83,83)"/><rect x="316" y="136" width="8.5" height="8.5" fill="rgb(83,83,83)"/><rect x="324" y="136" width="8.5" height="8.5" fill="rgb(83,83,83)"/><rect x="332" y="136" width="8.5" height="8.5" fill="rgb(106,106,106)"/><rect x="340" y="136" width="8.5" height="8.5" fill="rgb(83,83,83)"/><rect x="348" y="136" width="8.5" height="8.5" fill="rgb(83,83,83)"/><rect x="356" y="136" width="8.5" height="8.5" fill="rgb(31,31,31)"/><rect x="364" y="136" width="8.5" height="8.5" fill="rgb(51,51,51)"/><rect x="372" y="136" width="8.5" height="8.5" fill="rgb(51,51,51)"/><rect x="380" y="136" width="8.5" height="8.5" fill="rgb(83,83,83)"/><rect x="388" y="136" width="8.5" height="8.5" fill="rgb(106,106,106)"/><rect x="396" y="136" width="8.5" height="8.5" fill="rgb(106,106,106)"/><rect x="404" y="136" width="8.5" height="8.5" fill="rgb(106,106,106)"/><rect x="412" y="136" width="8.5" height="8.5" fill="rgb(106,106,106)"/><rect x="420" y="136" width="8.5" height="8.5" fill="rgb(83,83,83)"/><rect x="428" y="136" width="8.5" height="8.5" fill="rgb(106,106,106)"/><rect x="436" y="136" width="8.5" height="8.5" fill="rgb(129,129,129)"/><rect x="444" y="136" width="8.5" height="8.5" fill="rgb(129,129,129)"/><rect x="452" y="136" width="8.5" height="8.5" fill="rgb(129,129,129)"/><rect x="260" y="144" width="8.5" height="8.5" fill="rgb(7,7,7)"/><rect x="268" y="144" width="8.5" height="8.5" fill="rgb(7,7,7)"/><rect x="276" y="144" width="8.5" height="8.5" fill="rgb(83,83,83)"/><rect x="284" y="144" width="8.5" height="8.5" fill="rgb(31,31,31)"/><rect x="292" y="144" width="8.5" height="8.5" fill="rgb(83,83,83)"/><rect x="300" y="144" width="8.5" height="8.5" fill="rgb(106,106,106)"/><rect x="308" y="144" width="8.5" height="8.5" fill="rgb(106,106,106)"/><rect x="316" y="144" width="8.5" height="8.5" fill="rgb(83,83,83)"/><rect x="324" y="144" width="8.5" height="8.5" fill="rgb(129,129,129)"/><rect x="332" y="144" width="8.5" height="8.5" fill="rgb(129,129,129)"/><rect x="340" y="144" width="8.5" height="8.5" fill="rgb(83,83,83)"/><rect x="348" y="144" width="8.5" height="8.5" fill="rgb(83,83,83)"/><rect x="356" y="144" width="8.5" height="8.5" fill="rgb(83,83,83)"/><rect x="364" y="144" width="8.5" height="8.5" fill="rgb(83,83,83)"/><rect x="372" y="144" width="8.5" height="8.5" fill="rgb(129,129,129)"/><rect x="380" y="144" width="8.5" height="8.5" fill="rgb(129,129,129)"/><rect x="388" y="144" width="8.5" height="8.5" fill="rgb(129,129,129)"/><rect x="396" y="144" width="8.5" height="8.5" fill="rgb(129,129,129)"/><rect x="404" y="144" width="8.5" height="8.5" fill="rgb(129,129,129)"/><rect x="412" y="144" width="8.5" height="8.5" fill="rgb(106,106,106)"/><rect x="420" y="144" width="8.5" height="8.5" fill="rgb(83,83,83)"/><rect x="428" y="144" width="8.5" height="8.5" fill="rgb(129,129,129)"/><rect x="436" y="144" width="8.5" height="8.5" fill="rgb(129,129,129)"/><rect x="444" y="144" width="8.5" height="8.5" fill="rgb(129,129,129)"/><rect x="452" y="144" width="8.5" height="8.5" fill="rgb(129,129,129)"/><rect x="260" y="152" width="8.5" height="8.5" fill="rgb(83,83,83)"/><rect x="268" y="152" width="8.5" height="8.5" fill="rgb(83,83,83)"/><rect x="276" y="152" width="8.5" height="8.5" fill="rgb(83,83,83)"/><rect x="284" y="152" width="8.5" height="8.5" fill="rgb(51,51,51)"/><rect x="292" y="152" width="8.5" height="8.5" fill="rgb(83,83,83)"/><rect x="300" y="152" width="8.5" height="8.5" fill="rgb(83,83,83)"/><rect x="308" y="152" width="8.5" height="8.5" fill="rgb(106,106,106)"/><rect x="316" y="152" width="8.5" height="8.5" fill="rgb(106,106,106)"/><rect x="324" y="152" width="8.5" height="8.5" fill="rgb(129,129,129)"/><rect x="332" y="152" width="8.5" height="8.5" fill="rgb(106,106,106)"/><rect x="340" y="152" width="8.5" height="8.5" fill="rgb(31,31,31)"/><rect x="348" y="152" width="8.5" height="8.5" fill="rgb(83,83,83)"/><rect x="356" y="152" width="8.5" height="8.5" fill="rgb(83,83,83)"/><rect x="364" y="152" width="8.5" height="8.5" fill="rgb(83,83,83)"/><rect x="372" y="152" width="8.5" height="8.5" fill="rgb(129,129,129)"/><rect x="380" y="152" width="8.5" height="8.5" fill="rgb(166,166,166)"/><rect x="388" y="152" width="8.5" height="8.5" fill="rgb(129,129,129)"/><rect x="396" y="152" width="8.5" height="8.5" fill="rgb(129,129,129)"/><rect x="404" y="152" width="8.5" height="8.5" fill="rgb(106,106,106)"/><rect x="412" y="152" width="8.5" height="8.5" fill="rgb(83,83,83)"/><rect x="420" y="152" width="8.5" height="8.5" fill="rgb(106,106,106)"/><rect x="428" y="152" width="8.5" height="8.5" fill="rgb(129,129,129)"/><rect x="436" y="152" width="8.5" height="8.5" fill="rgb(129,129,129)"/><rect x="444" y="152" width="8.5" height="8.5" fill="rgb(129,129,129)"/><rect x="452" y="152" width="8.5" height="8.5" fill="rgb(129,129,129)"/><rect x="260" y="160" width="8.5" height="8.5" fill="rgb(31,31,31)"/><rect x="268" y="160" width="8.5" height="8.5" fill="rgb(31,31,31)"/><rect x="276" y="160" width="8.5" height="8.5" fill="rgb(51,51,51)"/><rect x="284" y="160" width="8.5" height="8.5" fill="rgb(83,83,83)"/><rect x="292" y="160" width="8.5" height="8.5" fill="rgb(51,51,51)"/><rect x="300" y="160" width="8.5" height="8.5" fill="rgb(51,51,51)"/><rect x="308" y="160" width="8.5" height="8.5" fill="rgb(83,83,83)"/><rect x="316" y="160" width="8.5" height="8.5" fill="rgb(106,106,106)"/><rect x="324" y="160" width="8.5" height="8.5" fill="rgb(106,106,106)"/><rect x="332" y="160" width="8.5" height="8.5" fill="rgb(83,83,83)"/><rect x="340" y="160" width="8.5" height="8.5" fill="rgb(51,51,51)"/><rect x="348" y="160" width="8.5" height="8.5" fill="rgb(83,83,83)"/><rect x="356" y="160" width="8.5" height="8.5" fill="rgb(106,106,106)"/><rect x="364" y="160" width="8.5" height="8.5" fill="rgb(106,106,106)"/><rect x="372" y="160" width="8.5" height="8.5" fill="rgb(106,106,106)"/><rect x="380" y="160" width="8.5" height="8.5" fill="rgb(166,166,166)"/><rect x="388" y="160" width="8.5" height="8.5" fill="rgb(129,129,129)"/><rect x="396" y="160" width="8.5" height="8.5" fill="rgb(129,129,129)"/><rect x="404" y="160" width="8.5" height="8.5" fill="rgb(83,83,83)"/><rect x="412" y="160" width="8.5" height="8.5" fill="rgb(51,51,51)"/><rect x="420" y="160" width="8.5" height="8.5" fill="rgb(83,83,83)"/><rect x="428" y="160" width="8.5" height="8.5" fill="rgb(129,129,129)"/><rect x="436" y="160" width="8.5" height="8.5" fill="rgb(129,129,129)"/><rect x="444" y="160" width="8.5" height="8.5" fill="rgb(129,129,129)"/><rect x="452" y="160" width="8.5" height="8.5" fill="rgb(129,129,129)"/><rect x="260" y="168" width="8.5" height="8.5" fill="rgb(7,7,7)"/><rect x="268" y="168" width="8.5" height="8.5" fill="rgb(7,7,7)"/><rect x="276" y="168" width="8.5" height="8.5" fill="rgb(51,51,51)"/><rect x="284" y="168" width="8.5" height="8.5" fill="rgb(83,83,83)"/><rect x="292" y="168" width="8.5" height="8.5" fill="rgb(31,31,31)"/><rect x="300" y="168" width="8.5" height="8.5" fill="rgb(31,31,31)"/><rect x="308" y="168" width="8.5" height="8.5" fill="rgb(83,83,83)"/><rect x="316" y="168" width="8.5" height="8.5" fill="rgb(106,106,106)"/><rect x="324" y="168" width="8.5" height="8.5" fill="rgb(83,83,83)"/><rect x="332" y="168" width="8.5" height="8.5" fill="rgb(83,83,83)"/><rect x="340" y="168" width="8.5" height="8.5" fill="rgb(83,83,83)"/><rect x="348" y="168" width="8.5" height="8.5" fill="rgb(129,129,129)"/><rect x="356" y="168" width="8.5" height="8.5" fill="rgb(129,129,129)"/><rect x="364" y="168" width="8.5" height="8.5" fill="rgb(129,129,129)"/><rect x="372" y="168" width="8.5" height="8.5" fill="rgb(129,129,129)"/><rect x="380" y="168" width="8.5" height="8.5" fill="rgb(166,166,166)"/><rect x="388" y="168" width="8.5" height="8.5" fill="rgb(129,129,129)"/><rect x="396" y="168" width="8.5" height="8.5" fill="rgb(129,129,129)"/><rect x="404" y="168" width="8.5" height="8.5" fill="rgb(83,83,83)"/><rect x="412" y="168" width="8.5" height="8.5" fill="rgb(7,7,7)"/><rect x="420" y="168" width="8.5" height="8.5" fill="rgb(51,51,51)"/><rect x="428" y="168" width="8.5" height="8.5" fill="rgb(129,129,129)"/><rect x="436" y="168" width="8.5" height="8.5" fill="rgb(129,129,129)"/><rect x="444" y="168" width="8.5" height="8.5" fill="rgb(129,129,129)"/><rect x="452" y="168" width="8.5" height="8.5" fill="rgb(129,129,129)"/><rect x="260" y="176" width="8.5" height="8.5" fill="rgb(83,83,83)"/><rect x="268" y="176" width="8.5" height="8.5" fill="rgb(83,83,83)"/><rect x="276" y="176" width="8.5" height="8.5" fill="rgb(83,83,83)"/><rect x="284" y="176" width="8.5" height="8.5" fill="rgb(83,83,83)"/><rect x="292" y="176" width="8.5" height="8.5" fill="rgb(51,51,51)"/><rect x="300" y="176" width="8.5" height="8.5" fill="rgb(83,83,83)"/><rect x="308" y="176" width="8.5" height="8.5" fill="rgb(83,83,83)"/><rect x="316" y="176" width="8.5" height="8.5" fill="rgb(83,83,83)"/><rect x="324" y="176" width="8.5" height="8.5" fill="rgb(51,51,51)"/><rect x="332" y="176" width="8.5" height="8.5" fill="rgb(83,83,83)"/><rect x="340" y="176" width="8.5" height="8.5" fill="rgb(106,106,106)"/><rect x="348" y="176" width="8.5" height="8.5" fill="rgb(129,129,129)"/><rect x="356" y="176" width="8.5" height="8.5" fill="rgb(129,129,129)"/><rect x="364" y="176" width="8.5" height="8.5" fill="rgb(129,129,129)"/><rect x="372" y="176" width="8.5" height="8.5" fill="rgb(166,166,166)"/><rect x="380" y="176" width="8.5" height="8.5" fill="rgb(166,166,166)"/><rect x="388" y="176" width="8.5" height="8.5" fill="rgb(129,129,129)"/><rect x="396" y="176" width="8.5" height="8.5" fill="rgb(129,129,129)"/><rect x="404" y="176" width="8.5" height="8.5" fill="rgb(106,106,106)"/><rect x="412" y="176" width="8.5" height="8.5" fill="rgb(51,51,51)"/><rect x="420" y="176" width="8.5" height="8.5" fill="rgb(0,0,0)"/><rect x="428" y="176" width="8.5" height="8.5" fill="rgb(0,0,0)"/><rect x="436" y="176" width="8.5" height="8.5" fill="rgb(0,0,0)"/><rect x="444" y="176" width="8.5" height="8.5" fill="rgb(0,0,0)"/><rect x="452" y="176" width="8.5" height="8.5" fill="rgb(0,0,0)"/><rect x="260" y="184" width="8.5" height="8.5" fill="rgb(106,106,106)"/><rect x="268" y="184" width="8.5" height="8.5" fill="rgb(106,106,106)"/><rect x="276" y="184" width="8.5" height="8.5" fill="rgb(83,83,83)"/><rect x="284" y="184" width="8.5" height="8.5" fill="rgb(31,31,31)"/><rect x="292" y="184" width="8.5" height="8.5" fill="rgb(31,31,31)"/><rect x="300" y="184" width="8.5" height="8.5" fill="rgb(83,83,83)"/><rect x="308" y="184" width="8.5" height="8.5" fill="rgb(51,51,51)"/><rect x="316" y="184" width="8.5" height="8.5" fill="rgb(83,83,83)"/><rect x="324" y="184" width="8.5" height="8.5" fill="rgb(129,129,129)"/><rect x="332" y="184" width="8.5" height="8.5" fill="rgb(106,106,106)"/><rect x="340" y="184" width="8.5" height="8.5" fill="rgb(83,83,83)"/><rect x="348" y="184" width="8.5" height="8.5" fill="rgb(106,106,106)"/><rect x="356" y="184" width="8.5" height="8.5" fill="rgb(129,129,129)"/><rect x="364" y="184" width="8.5" height="8.5" fill="rgb(129,129,129)"/><rect x="372" y="184" width="8.5" height="8.5" fill="rgb(129,129,129)"/><rect x="380" y="184" width="8.5" height="8.5" fill="rgb(166,166,166)"/><rect x="388" y="184" width="8.5" height="8.5" fill="rgb(129,129,129)"/><rect x="396" y="184" width="8.5" height="8.5" fill="rgb(166,166,166)"/><rect x="404" y="184" width="8.5" height="8.5" fill="rgb(166,166,166)"/><rect x="412" y="184" width="8.5" height="8.5" fill="rgb(129,129,129)"/><rect x="420" y="184" width="8.5" height="8.5" fill="rgb(129,129,129)"/><rect x="428" y="184" width="8.5" height="8.5" fill="rgb(31,31,31)"/><rect x="436" y="184" width="8.5" height="8.5" fill="rgb(83,83,83)"/><rect x="444" y="184" width="8.5" height="8.5" fill="rgb(0,0,0)"/><rect x="452" y="184" width="8.5" height="8.5" fill="rgb(0,0,0)"/><rect x="260" y="192" width="8.5" height="8.5" fill="rgb(106,106,106)"/><rect x="268" y="192" width="8.5" height="8.5" fill="rgb(106,106,106)"/><rect x="276" y="192" width="8.5" height="8.5" fill="rgb(83,83,83)"/><rect x="284" y="192" width="8.5" height="8.5" fill="rgb(19,19,19)"/><rect x="292" y="192" width="8.5" height="8.5" fill="rgb(51,51,51)"/><rect x="300" y="192" width="8.5" height="8.5" fill="rgb(106,106,106)"/><rect x="308" y="192" width="8.5" height="8.5" fill="rgb(31,31,31)"/><rect x="316" y="192" width="8.5" height="8.5" fill="rgb(83,83,83)"/><rect x="324" y="192" width="8.5" height="8.5" fill="rgb(106,106,106)"/><rect x="332" y="192" width="8.5" height="8.5" fill="rgb(106,106,106)"/><rect x="340" y="192" width="8.5" height="8.5" fill="rgb(31,31,31)"/><rect x="348" y="192" width="8.5" height="8.5" fill="rgb(83,83,83)"/><rect x="356" y="192" width="8.5" height="8.5" fill="rgb(129,129,129)"/><rect x="364" y="192" width="8.5" height="8.5" fill="rgb(106,106,106)"/><rect x="372" y="192" width="8.5" height="8.5" fill="rgb(129,129,129)"/><rect x="380" y="192" width="8.5" height="8.5" fill="rgb(129,129,129)"/><rect x="388" y="192" width="8.5" height="8.5" fill="rgb(129,129,129)"/><rect x="396" y="192" width="8.5" height="8.5" fill="rgb(166,166,166)"/><rect x="404" y="192" width="8.5" height="8.5" fill="rgb(166,166,166)"/><rect x="412" y="192" width="8.5" height="8.5" fill="rgb(129,129,129)"/><rect x="420" y="192" width="8.5" height="8.5" fill="rgb(129,129,129)"/><rect x="428" y="192" width="8.5" height="8.5" fill="rgb(51,51,51)"/><rect x="436" y="192" width="8.5" height="8.5" fill="rgb(83,83,83)"/><rect x="444" y="192" width="8.5" height="8.5" fill="rgb(0,0,0)"/><rect x="452" y="192" width="8.5" height="8.5" fill="rgb(0,0,0)"/><rect x="260" y="200" width="8.5" height="8.5" fill="rgb(166,166,166)"/><rect x="268" y="200" width="8.5" height="8.5" fill="rgb(166,166,166)"/><rect x="276" y="200" width="8.5" height="8.5" fill="rgb(129,129,129)"/><rect x="284" y="200" width="8.5" height="8.5" fill="rgb(106,106,106)"/><rect x="292" y="200" width="8.5" height="8.5" fill="rgb(106,106,106)"/><rect x="300" y="200" width="8.5" height="8.5" fill="rgb(106,106,106)"/><rect x="308" y="200" width="8.5" height="8.5" fill="rgb(31,31,31)"/><rect x="316" y="200" width="8.5" height="8.5" fill="rgb(83,83,83)"/><rect x="324" y="200" width="8.5" height="8.5" fill="rgb(106,106,106)"/><rect x="332" y="200" width="8.5" height="8.5" fill="rgb(106,106,106)"/><rect x="340" y="200" width="8.5" height="8.5" fill="rgb(51,51,51)"/><rect x="348" y="200" width="8.5" height="8.5" fill="rgb(83,83,83)"/><rect x="356" y="200" width="8.5" height="8.5" fill="rgb(83,83,83)"/><rect x="364" y="200" width="8.5" height="8.5" fill="rgb(129,129,129)"/><rect x="372" y="200" width="8.5" height="8.5" fill="rgb(129,129,129)"/><rect x="380" y="200" width="8.5" height="8.5" fill="rgb(129,129,129)"/><rect x="388" y="200" width="8.5" height="8.5" fill="rgb(129,129,129)"/><rect x="396" y="200" width="8.5" height="8.5" fill="rgb(129,129,129)"/><rect x="404" y="200" width="8.5" height="8.5" fill="rgb(129,129,129)"/><rect x="412" y="200" width="8.5" height="8.5" fill="rgb(129,129,129)"/><rect x="420" y="200" width="8.5" height="8.5" fill="rgb(129,129,129)"/><rect x="428" y="200" width="8.5" height="8.5" fill="rgb(106,106,106)"/><rect x="436" y="200" width="8.5" height="8.5" fill="rgb(83,83,83)"/><rect x="444" y="200" width="8.5" height="8.5" fill="rgb(0,0,0)"/><rect x="452" y="200" width="8.5" height="8.5" fill="rgb(0,0,0)"/><rect x="260" y="208" width="8.5" height="8.5" fill="rgb(166,166,166)"/><rect x="268" y="208" width="8.5" height="8.5" fill="rgb(166,166,166)"/><rect x="276" y="208" width="8.5" height="8.5" fill="rgb(129,129,129)"/><rect x="284" y="208" width="8.5" height="8.5" fill="rgb(129,129,129)"/><rect x="292" y="208" width="8.5" height="8.5" fill="rgb(129,129,129)"/><rect x="300" y="208" width="8.5" height="8.5" fill="rgb(106,106,106)"/><rect x="308" y="208" width="8.5" height="8.5" fill="rgb(83,83,83)"/><rect x="316" y="208" width="8.5" height="8.5" fill="rgb(83,83,83)"/><rect x="324" y="208" width="8.5" height="8.5" fill="rgb(106,106,106)"/><rect x="332" y="208" width="8.5" height="8.5" fill="rgb(83,83,83)"/><rect x="340" y="208" width="8.5" height="8.5" fill="rgb(83,83,83)"/><rect x="348" y="208" width="8.5" height="8.5" fill="rgb(83,83,83)"/><rect x="356" y="208" width="8.5" height="8.5" fill="rgb(83,83,83)"/><rect x="364" y="208" width="8.5" height="8.5" fill="rgb(31,31,31)"/><rect x="372" y="208" width="8.5" height="8.5" fill="rgb(106,106,106)"/><rect x="380" y="208" width="8.5" height="8.5" fill="rgb(83,83,83)"/><rect x="388" y="208" width="8.5" height="8.5" fill="rgb(106,106,106)"/><rect x="396" y="208" width="8.5" height="8.5" fill="rgb(106,106,106)"/><rect x="404" y="208" width="8.5" height="8.5" fill="rgb(106,106,106)"/><rect x="412" y="208" width="8.5" height="8.5" fill="rgb(129,129,129)"/><rect x="420" y="208" width="8.5" height="8.5" fill="rgb(129,129,129)"/><rect x="428" y="208" width="8.5" height="8.5" fill="rgb(129,129,129)"/><rect x="436" y="208" width="8.5" height="8.5" fill="rgb(83,83,83)"/><rect x="444" y="208" width="8.5" height="8.5" fill="rgb(83,83,83)"/><rect x="452" y="208" width="8.5" height="8.5" fill="rgb(83,83,83)"/><rect x="260" y="216" width="8.5" height="8.5" fill="rgb(129,129,129)"/><rect x="268" y="216" width="8.5" height="8.5" fill="rgb(129,129,129)"/><rect x="276" y="216" width="8.5" height="8.5" fill="rgb(83,83,83)"/><rect x="284" y="216" width="8.5" height="8.5" fill="rgb(129,129,129)"/><rect x="292" y="216" width="8.5" height="8.5" fill="rgb(83,83,83)"/><rect x="300" y="216" width="8.5" height="8.5" fill="rgb(106,106,106)"/><rect x="308" y="216" width="8.5" height="8.5" fill="rgb(83,83,83)"/><rect x="316" y="216" width="8.5" height="8.5" fill="rgb(83,83,83)"/><rect x="324" y="216" width="8.5" height="8.5" fill="rgb(51,51,51)"/><rect x="332" y="216" width="8.5" height="8.5" fill="rgb(166,166,166)"/><rect x="340" y="216" width="8.5" height="8.5" fill="rgb(166,166,166)"/><rect x="348" y="216" width="8.5" height="8.5" fill="rgb(106,106,106)"/><rect x="356" y="216" width="8.5" height="8.5" fill="rgb(51,51,51)"/><rect x="364" y="216" width="8.5" height="8.5" fill="rgb(31,31,31)"/><rect x="372" y="216" width="8.5" height="8.5" fill="rgb(83,83,83)"/><rect x="380" y="216" width="8.5" height="8.5" fill="rgb(83,83,83)"/><rect x="388" y="216" width="8.5" height="8.5" fill="rgb(51,51,51)"/><rect x="396" y="216" width="8.5" height="8.5" fill="rgb(83,83,83)"/><rect x="404" y="216" width="8.5" height="8.5" fill="rgb(83,83,83)"/><rect x="412" y="216" width="8.5" height="8.5" fill="rgb(0,0,0)"/><rect x="420" y="216" width="8.5" height="8.5" fill="rgb(0,0,0)"/><rect x="428" y="216" width="8.5" height="8.5" fill="rgb(129,129,129)"/><rect x="436" y="216" width="8.5" height="8.5" fill="rgb(0,0,0)"/><rect x="444" y="216" width="8.5" height="8.5" fill="rgb(0,0,0)"/><rect x="452" y="216" width="8.5" height="8.5" fill="rgb(0,0,0)"/><rect x="260" y="224" width="8.5" height="8.5" fill="rgb(129,129,129)"/><rect x="268" y="224" width="8.5" height="8.5" fill="rgb(129,129,129)"/><rect x="276" y="224" width="8.5" height="8.5" fill="rgb(129,129,129)"/><rect x="284" y="224" width="8.5" height="8.5" fill="rgb(129,129,129)"/><rect x="292" y="224" width="8.5" height="8.5" fill="rgb(129,129,129)"/><rect x="300" y="224" width="8.5" height="8.5" fill="rgb(106,106,106)"/><rect x="308" y="224" width="8.5" height="8.5" fill="rgb(83,83,83)"/><rect x="316" y="224" width="8.5" height="8.5" fill="rgb(31,31,31)"/><rect x="324" y="224" width="8.5" height="8.5" fill="rgb(83,83,83)"/><rect x="332" y="224" width="8.5" height="8.5" fill="rgb(166,166,166)"/><rect x="340" y="224" width="8.5" height="8.5" fill="rgb(166,166,166)"/><rect x="348" y="224" width="8.5" height="8.5" fill="rgb(83,83,83)"/><rect x="356" y="224" width="8.5" height="8.5" fill="rgb(51,51,51)"/><rect x="364" y="224" width="8.5" height="8.5" fill="rgb(83,83,83)"/><rect x="372" y="224" width="8.5" height="8.5" fill="rgb(83,83,83)"/><rect x="380" y="224" width="8.5" height="8.5" fill="rgb(83,83,83)"/><rect x="388" y="224" width="8.5" height="8.5" fill="rgb(51,51,51)"/><rect x="396" y="224" width="8.5" height="8.5" fill="rgb(129,129,129)"/><rect x="404" y="224" width="8.5" height="8.5" fill="rgb(0,0,0)"/><rect x="412" y="224" width="8.5" height="8.5" fill="rgb(0,0,0)"/><rect x="420" y="224" width="8.5" height="8.5" fill="rgb(0,0,0)"/><rect x="428" y="224" width="8.5" height="8.5" fill="rgb(0,0,0)"/><rect x="436" y="224" width="8.5" height="8.5" fill="rgb(0,0,0)"/><rect x="444" y="224" width="8.5" height="8.5" fill="rgb(0,0,0)"/><rect x="452" y="224" width="8.5" height="8.5" fill="rgb(0,0,0)"/><rect x="260" y="232" width="8.5" height="8.5" fill="rgb(106,106,106)"/><rect x="268" y="232" width="8.5" height="8.5" fill="rgb(106,106,106)"/><rect x="276" y="232" width="8.5" height="8.5" fill="rgb(106,106,106)"/><rect x="284" y="232" width="8.5" height="8.5" fill="rgb(129,129,129)"/><rect x="292" y="232" width="8.5" height="8.5" fill="rgb(106,106,106)"/><rect x="300" y="232" width="8.5" height="8.5" fill="rgb(106,106,106)"/><rect x="308" y="232" width="8.5" height="8.5" fill="rgb(51,51,51)"/><rect x="316" y="232" width="8.5" height="8.5" fill="rgb(51,51,51)"/><rect x="324" y="232" width="8.5" height="8.5" fill="rgb(83,83,83)"/><rect x="332" y="232" width="8.5" height="8.5" fill="rgb(129,129,129)"/><rect x="340" y="232" width="8.5" height="8.5" fill="rgb(129,129,129)"/><rect x="348" y="232" width="8.5" height="8.5" fill="rgb(83,83,83)"/><rect x="356" y="232" width="8.5" height="8.5" fill="rgb(83,83,83)"/><rect x="364" y="232" width="8.5" height="8.5" fill="rgb(83,83,83)"/><rect x="372" y="232" width="8.5" height="8.5" fill="rgb(129,129,129)"/><rect x="380" y="232" width="8.5" height="8.5" fill="rgb(106,106,106)"/><rect x="388" y="232" width="8.5" height="8.5" fill="rgb(83,83,83)"/><rect x="396" y="232" width="8.5" height="8.5" fill="rgb(129,129,129)"/><rect x="404" y="232" width="8.5" height="8.5" fill="rgb(106,106,106)"/><rect x="412" y="232" width="8.5" height="8.5" fill="rgb(0,0,0)"/><rect x="420" y="232" width="8.5" height="8.5" fill="rgb(0,0,0)"/><rect x="428" y="232" width="8.5" height="8.5" fill="rgb(106,106,106)"/><rect x="436" y="232" width="8.5" height="8.5" fill="rgb(0,0,0)"/><rect x="444" y="232" width="8.5" height="8.5" fill="rgb(0,0,0)"/><rect x="452" y="232" width="8.5" height="8.5" fill="rgb(0,0,0)"/><rect x="260" y="240" width="8.5" height="8.5" fill="rgb(129,129,129)"/><rect x="268" y="240" width="8.5" height="8.5" fill="rgb(129,129,129)"/><rect x="276" y="240" width="8.5" height="8.5" fill="rgb(106,106,106)"/><rect x="284" y="240" width="8.5" height="8.5" fill="rgb(106,106,106)"/><rect x="292" y="240" width="8.5" height="8.5" fill="rgb(106,106,106)"/><rect x="300" y="240" width="8.5" height="8.5" fill="rgb(51,51,51)"/><rect x="308" y="240" width="8.5" height="8.5" fill="rgb(51,51,51)"/><rect x="316" y="240" width="8.5" height="8.5" fill="rgb(51,51,51)"/><rect x="324" y="240" width="8.5" height="8.5" fill="rgb(83,83,83)"/><rect x="332" y="240" width="8.5" height="8.5" fill="rgb(106,106,106)"/><rect x="340" y="240" width="8.5" height="8.5" fill="rgb(129,129,129)"/><rect x="348" y="240" width="8.5" height="8.5" fill="rgb(106,106,106)"/><rect x="356" y="240" width="8.5" height="8.5" fill="rgb(51,51,51)"/><rect x="364" y="240" width="8.5" height="8.5" fill="rgb(31,31,31)"/><rect x="372" y="240" width="8.5" height="8.5" fill="rgb(83,83,83)"/><rect x="380" y="240" width="8.5" height="8.5" fill="rgb(83,83,83)"/><rect x="388" y="240" width="8.5" height="8.5" fill="rgb(83,83,83)"/><rect x="396" y="240" width="8.5" height="8.5" fill="rgb(51,51,51)"/><rect x="404" y="240" width="8.5" height="8.5" fill="rgb(83,83,83)"/><rect x="412" y="240" width="8.5" height="8.5" fill="rgb(51,51,51)"/><rect x="420" y="240" width="8.5" height="8.5" fill="rgb(31,31,31)"/><rect x="428" y="240" width="8.5" height="8.5" fill="rgb(83,83,83)"/><rect x="436" y="240" width="8.5" height="8.5" fill="rgb(0,0,0)"/><rect x="444" y="240" width="8.5" height="8.5" fill="rgb(0,0,0)"/><rect x="452" y="240" width="8.5" height="8.5" fill="rgb(0,0,0)"/><rect x="260" y="248" width="8.5" height="8.5" fill="rgb(129,129,129)"/><rect x="268" y="248" width="8.5" height="8.5" fill="rgb(129,129,129)"/><rect x="276" y="248" width="8.5" height="8.5" fill="rgb(129,129,129)"/><rect x="284" y="248" width="8.5" height="8.5" fill="rgb(129,129,129)"/><rect x="292" y="248" width="8.5" height="8.5" fill="rgb(106,106,106)"/><rect x="300" y="248" width="8.5" height="8.5" fill="rgb(51,51,51)"/><rect x="308" y="248" width="8.5" height="8.5" fill="rgb(31,31,31)"/><rect x="316" y="248" width="8.5" height="8.5" fill="rgb(83,83,83)"/><rect x="324" y="248" width="8.5" height="8.5" fill="rgb(106,106,106)"/><rect x="332" y="248" width="8.5" height="8.5" fill="rgb(106,106,106)"/><rect x="340" y="248" width="8.5" height="8.5" fill="rgb(106,106,106)"/><rect x="348" y="248" width="8.5" height="8.5" fill="rgb(106,106,106)"/><rect x="356" y="248" width="8.5" height="8.5" fill="rgb(31,31,31)"/><rect x="364" y="248" width="8.5" height="8.5" fill="rgb(51,51,51)"/><rect x="372" y="248" width="8.5" height="8.5" fill="rgb(83,83,83)"/><rect x="380" y="248" width="8.5" height="8.5" fill="rgb(83,83,83)"/><rect x="388" y="248" width="8.5" height="8.5" fill="rgb(83,83,83)"/><rect x="396" y="248" width="8.5" height="8.5" fill="rgb(51,51,51)"/><rect x="404" y="248" width="8.5" height="8.5" fill="rgb(106,106,106)"/><rect x="412" y="248" width="8.5" height="8.5" fill="rgb(106,106,106)"/><rect x="420" y="248" width="8.5" height="8.5" fill="rgb(31,31,31)"/><rect x="428" y="248" width="8.5" height="8.5" fill="rgb(106,106,106)"/><rect x="436" y="248" width="8.5" height="8.5" fill="rgb(0,0,0)"/><rect x="444" y="248" width="8.5" height="8.5" fill="rgb(0,0,0)"/><rect x="452" y="248" width="8.5" height="8.5" fill="rgb(0,0,0)"/><rect x="260" y="256" width="8.5" height="8.5" fill="rgb(129,129,129)"/><rect x="268" y="256" width="8.5" height="8.5" fill="rgb(129,129,129)"/><rect x="276" y="256" width="8.5" height="8.5" fill="rgb(129,129,129)"/><rect x="284" y="256" width="8.5" height="8.5" fill="rgb(129,129,129)"/><rect x="292" y="256" width="8.5" height="8.5" fill="rgb(106,106,106)"/><rect x="300" y="256" width="8.5" height="8.5" fill="rgb(31,31,31)"/><rect x="308" y="256" width="8.5" height="8.5" fill="rgb(51,51,51)"/><rect x="316" y="256" width="8.5" height="8.5" fill="rgb(106,106,106)"/><rect x="324" y="256" width="8.5" height="8.5" fill="rgb(106,106,106)"/><rect x="332" y="256" width="8.5" height="8.5" fill="rgb(129,129,129)"/><rect x="340" y="256" width="8.5" height="8.5" fill="rgb(129,129,129)"/><rect x="348" y="256" width="8.5" height="8.5" fill="rgb(129,129,129)"/><rect x="356" y="256" width="8.5" height="8.5" fill="rgb(83,83,83)"/><rect x="364" y="256" width="8.5" height="8.5" fill="rgb(31,31,31)"/><rect x="372" y="256" width="8.5" height="8.5" fill="rgb(51,51,51)"/><rect x="380" y="256" width="8.5" height="8.5" fill="rgb(83,83,83)"/><rect x="388" y="256" width="8.5" height="8.5" fill="rgb(106,106,106)"/><rect x="396" y="256" width="8.5" height="8.5" fill="rgb(106,106,106)"/><rect x="404" y="256" width="8.5" height="8.5" fill="rgb(129,129,129)"/><rect x="412" y="256" width="8.5" height="8.5" fill="rgb(83,83,83)"/><rect x="420" y="256" width="8.5" height="8.5" fill="rgb(83,83,83)"/><rect x="428" y="256" width="8.5" height="8.5" fill="rgb(129,129,129)"/><rect x="436" y="256" width="8.5" height="8.5" fill="rgb(129,129,129)"/><rect x="444" y="256" width="8.5" height="8.5" fill="rgb(106,106,106)"/><rect x="452" y="256" width="8.5" height="8.5" fill="rgb(106,106,106)"/><rect x="260" y="264" width="8.5" height="8.5" fill="rgb(129,129,129)"/><rect x="268" y="264" width="8.5" height="8.5" fill="rgb(129,129,129)"/><rect x="276" y="264" width="8.5" height="8.5" fill="rgb(129,129,129)"/><rect x="284" y="264" width="8.5" height="8.5" fill="rgb(129,129,129)"/><rect x="292" y="264" width="8.5" height="8.5" fill="rgb(106,106,106)"/><rect x="300" y="264" width="8.5" height="8.5" fill="rgb(106,106,106)"/><rect x="308" y="264" width="8.5" height="8.5" fill="rgb(106,106,106)"/><rect x="316" y="264" width="8.5" height="8.5" fill="rgb(83,83,83)"/><rect x="324" y="264" width="8.5" height="8.5" fill="rgb(106,106,106)"/><rect x="332" y="264" width="8.5" height="8.5" fill="rgb(106,106,106)"/><rect x="340" y="264" width="8.5" height="8.5" fill="rgb(83,83,83)"/><rect x="348" y="264" width="8.5" height="8.5" fill="rgb(106,106,106)"/><rect x="356" y="264" width="8.5" height="8.5" fill="rgb(31,31,31)"/><rect x="364" y="264" width="8.5" height="8.5" fill="rgb(31,31,31)"/><rect x="372" y="264" width="8.5" height="8.5" fill="rgb(51,51,51)"/><rect x="380" y="264" width="8.5" height="8.5" fill="rgb(106,106,106)"/><rect x="388" y="264" width="8.5" height="8.5" fill="rgb(129,129,129)"/><rect x="396" y="264" width="8.5" height="8.5" fill="rgb(129,129,129)"/><rect x="404" y="264" width="8.5" height="8.5" fill="rgb(129,129,129)"/><rect x="412" y="264" width="8.5" height="8.5" fill="rgb(129,129,129)"/><rect x="420" y="264" width="8.5" height="8.5" fill="rgb(129,129,129)"/><rect x="428" y="264" width="8.5" height="8.5" fill="rgb(129,129,129)"/><rect x="436" y="264" width="8.5" height="8.5" fill="rgb(106,106,106)"/><rect x="444" y="264" width="8.5" height="8.5" fill="rgb(83,83,83)"/><rect x="452" y="264" width="8.5" height="8.5" fill="rgb(83,83,83)"/><rect x="260" y="272" width="8.5" height="8.5" fill="rgb(129,129,129)"/><rect x="268" y="272" width="8.5" height="8.5" fill="rgb(129,129,129)"/><rect x="276" y="272" width="8.5" height="8.5" fill="rgb(129,129,129)"/><rect x="284" y="272" width="8.5" height="8.5" fill="rgb(106,106,106)"/><rect x="292" y="272" width="8.5" height="8.5" fill="rgb(106,106,106)"/><rect x="300" y="272" width="8.5" height="8.5" fill="rgb(129,129,129)"/><rect x="308" y="272" width="8.5" height="8.5" fill="rgb(106,106,106)"/><rect x="316" y="272" width="8.5" height="8.5" fill="rgb(83,83,83)"/><rect x="324" y="272" width="8.5" height="8.5" fill="rgb(51,51,51)"/><rect x="332" y="272" width="8.5" height="8.5" fill="rgb(31,31,31)"/><rect x="340" y="272" width="8.5" height="8.5" fill="rgb(51,51,51)"/><rect x="348" y="272" width="8.5" height="8.5" fill="rgb(83,83,83)"/><rect x="356" y="272" width="8.5" height="8.5" fill="rgb(31,31,31)"/><rect x="364" y="272" width="8.5" height="8.5" fill="rgb(19,19,19)"/><rect x="372" y="272" width="8.5" height="8.5" fill="rgb(31,31,31)"/><rect x="380" y="272" width="8.5" height="8.5" fill="rgb(106,106,106)"/><rect x="388" y="272" width="8.5" height="8.5" fill="rgb(129,129,129)"/><rect x="396" y="272" width="8.5" height="8.5" fill="rgb(129,129,129)"/><rect x="404" y="272" width="8.5" height="8.5" fill="rgb(129,129,129)"/><rect x="412" y="272" width="8.5" height="8.5" fill="rgb(129,129,129)"/><rect x="420" y="272" width="8.5" height="8.5" fill="rgb(129,129,129)"/><rect x="428" y="272" width="8.5" height="8.5" fill="rgb(129,129,129)"/><rect x="436" y="272" width="8.5" height="8.5" fill="rgb(106,106,106)"/><rect x="444" y="272" width="8.5" height="8.5" fill="rgb(83,83,83)"/><rect x="452" y="272" width="8.5" height="8.5" fill="rgb(83,83,83)"/><rect x="260" y="280" width="8.5" height="8.5" fill="rgb(106,106,106)"/><rect x="268" y="280" width="8.5" height="8.5" fill="rgb(106,106,106)"/><rect x="276" y="280" width="8.5" height="8.5" fill="rgb(106,106,106)"/><rect x="284" y="280" width="8.5" height="8.5" fill="rgb(83,83,83)"/><rect x="292" y="280" width="8.5" height="8.5" fill="rgb(106,106,106)"/><rect x="300" y="280" width="8.5" height="8.5" fill="rgb(129,129,129)"/><rect x="308" y="280" width="8.5" height="8.5" fill="rgb(106,106,106)"/><rect x="316" y="280" width="8.5" height="8.5" fill="rgb(83,83,83)"/><rect x="324" y="280" width="8.5" height="8.5" fill="rgb(51,51,51)"/><rect x="332" y="280" width="8.5" height="8.5" fill="rgb(51,51,51)"/><rect x="340" y="280" width="8.5" height="8.5" fill="rgb(83,83,83)"/><rect x="348" y="280" width="8.5" height="8.5" fill="rgb(83,83,83)"/><rect x="356" y="280" width="8.5" height="8.5" fill="rgb(19,19,19)"/><rect x="364" y="280" width="8.5" height="8.5" fill="rgb(19,19,19)"/><rect x="372" y="280" width="8.5" height="8.5" fill="rgb(31,31,31)"/><rect x="380" y="280" width="8.5" height="8.5" fill="rgb(83,83,83)"/><rect x="388" y="280" width="8.5" height="8.5" fill="rgb(129,129,129)"/><rect x="396" y="280" width="8.5" height="8.5" fill="rgb(129,129,129)"/><rect x="404" y="280" width="8.5" height="8.5" fill="rgb(129,129,129)"/><rect x="412" y="280" width="8.5" height="8.5" fill="rgb(129,129,129)"/><rect x="420" y="280" width="8.5" height="8.5" fill="rgb(129,129,129)"/><rect x="428" y="280" width="8.5" height="8.5" fill="rgb(129,129,129)"/><rect x="436" y="280" width="8.5" height="8.5" fill="rgb(106,106,106)"/><rect x="444" y="280" width="8.5" height="8.5" fill="rgb(83,83,83)"/><rect x="452" y="280" width="8.5" height="8.5" fill="rgb(83,83,83)"/><rect x="260" y="288" width="8.5" height="8.5" fill="rgb(83,83,83)"/><rect x="268" y="288" width="8.5" height="8.5" fill="rgb(83,83,83)"/><rect x="276" y="288" width="8.5" height="8.5" fill="rgb(51,51,51)"/><rect x="284" y="288" width="8.5" height="8.5" fill="rgb(83,83,83)"/><rect x="292" y="288" width="8.5" height="8.5" fill="rgb(106,106,106)"/><rect x="300" y="288" width="8.5" height="8.5" fill="rgb(106,106,106)"/><rect x="308" y="288" width="8.5" height="8.5" fill="rgb(83,83,83)"/><rect x="316" y="288" width="8.5" height="8.5" fill="rgb(83,83,83)"/><rect x="324" y="288" width="8.5" height="8.5" fill="rgb(83,83,83)"/><rect x="332" y="288" width="8.5" height="8.5" fill="rgb(83,83,83)"/><rect x="340" y="288" width="8.5" height="8.5" fill="rgb(83,83,83)"/><rect x="348" y="288" width="8.5" height="8.5" fill="rgb(83,83,83)"/><rect x="356" y="288" width="8.5" height="8.5" fill="rgb(19,19,19)"/><rect x="364" y="288" width="8.5" height="8.5" fill="rgb(19,19,19)"/><rect x="372" y="288" width="8.5" height="8.5" fill="rgb(31,31,31)"/><rect x="380" y="288" width="8.5" height="8.5" fill="rgb(83,83,83)"/><rect x="388" y="288" width="8.5" height="8.5" fill="rgb(106,106,106)"/><rect x="396" y="288" width="8.5" height="8.5" fill="rgb(129,129,129)"/><rect x="404" y="288" width="8.5" height="8.5" fill="rgb(129,129,129)"/><rect x="412" y="288" width="8.5" height="8.5" fill="rgb(129,129,129)"/><rect x="420" y="288" width="8.5" height="8.5" fill="rgb(129,129,129)"/><rect x="428" y="288" width="8.5" height="8.5" fill="rgb(129,129,129)"/><rect x="436" y="288" width="8.5" height="8.5" fill="rgb(129,129,129)"/><rect x="444" y="288" width="8.5" height="8.5" fill="rgb(106,106,106)"/><rect x="452" y="288" width="8.5" height="8.5" fill="rgb(106,106,106)"/><rect x="260" y="296" width="8.5" height="8.5" fill="rgb(83,83,83)"/><rect x="268" y="296" width="8.5" height="8.5" fill="rgb(83,83,83)"/><rect x="276" y="296" width="8.5" height="8.5" fill="rgb(83,83,83)"/><rect x="284" y="296" width="8.5" height="8.5" fill="rgb(51,51,51)"/><rect x="292" y="296" width="8.5" height="8.5" fill="rgb(129,129,129)"/><rect x="300" y="296" width="8.5" height="8.5" fill="rgb(106,106,106)"/><rect x="308" y="296" width="8.5" height="8.5" fill="rgb(106,106,106)"/><rect x="316" y="296" width="8.5" height="8.5" fill="rgb(83,83,83)"/><rect x="324" y="296" width="8.5" height="8.5" fill="rgb(83,83,83)"/><rect x="332" y="296" width="8.5" height="8.5" fill="rgb(83,83,83)"/><rect x="340" y="296" width="8.5" height="8.5" fill="rgb(83,83,83)"/><rect x="348" y="296" width="8.5" height="8.5" fill="rgb(83,83,83)"/><rect x="356" y="296" width="8.5" height="8.5" fill="rgb(31,31,31)"/><rect x="364" y="296" width="8.5" height="8.5" fill="rgb(31,31,31)"/><rect x="372" y="296" width="8.5" height="8.5" fill="rgb(31,31,31)"/><rect x="380" y="296" width="8.5" height="8.5" fill="rgb(31,31,31)"/><rect x="388" y="296" width="8.5" height="8.5" fill="rgb(83,83,83)"/><rect x="396" y="296" width="8.5" height="8.5" fill="rgb(129,129,129)"/><rect x="404" y="296" width="8.5" height="8.5" fill="rgb(129,129,129)"/><rect x="412" y="296" width="8.5" height="8.5" fill="rgb(129,129,129)"/><rect x="420" y="296" width="8.5" height="8.5" fill="rgb(129,129,129)"/><rect x="428" y="296" width="8.5" height="8.5" fill="rgb(129,129,129)"/><rect x="436" y="296" width="8.5" height="8.5" fill="rgb(129,129,129)"/><rect x="444" y="296" width="8.5" height="8.5" fill="rgb(129,129,129)"/><rect x="452" y="296" width="8.5" height="8.5" fill="rgb(129,129,129)"/><rect x="260" y="304" width="8.5" height="8.5" fill="rgb(106,106,106)"/><rect x="268" y="304" width="8.5" height="8.5" fill="rgb(106,106,106)"/><rect x="276" y="304" width="8.5" height="8.5" fill="rgb(83,83,83)"/><rect x="284" y="304" width="8.5" height="8.5" fill="rgb(51,51,51)"/><rect x="292" y="304" width="8.5" height="8.5" fill="rgb(129,129,129)"/><rect x="300" y="304" width="8.5" height="8.5" fill="rgb(106,106,106)"/><rect x="308" y="304" width="8.5" height="8.5" fill="rgb(106,106,106)"/><rect x="316" y="304" width="8.5" height="8.5" fill="rgb(106,106,106)"/><rect x="324" y="304" width="8.5" height="8.5" fill="rgb(83,83,83)"/><rect x="332" y="304" width="8.5" height="8.5" fill="rgb(83,83,83)"/><rect x="340" y="304" width="8.5" height="8.5" fill="rgb(83,83,83)"/><rect x="348" y="304" width="8.5" height="8.5" fill="rgb(83,83,83)"/><rect x="356" y="304" width="8.5" height="8.5" fill="rgb(51,51,51)"/><rect x="364" y="304" width="8.5" height="8.5" fill="rgb(31,31,31)"/><rect x="372" y="304" width="8.5" height="8.5" fill="rgb(31,31,31)"/><rect x="380" y="304" width="8.5" height="8.5" fill="rgb(31,31,31)"/><rect x="388" y="304" width="8.5" height="8.5" fill="rgb(83,83,83)"/><rect x="396" y="304" width="8.5" height="8.5" fill="rgb(106,106,106)"/><rect x="404" y="304" width="8.5" height="8.5" fill="rgb(129,129,129)"/><rect x="412" y="304" width="8.5" height="8.5" fill="rgb(129,129,129)"/><rect x="420" y="304" width="8.5" height="8.5" fill="rgb(129,129,129)"/><rect x="428" y="304" width="8.5" height="8.5" fill="rgb(129,129,129)"/><rect x="436" y="304" width="8.5" height="8.5" fill="rgb(129,129,129)"/><rect x="444" y="304" width="8.5" height="8.5" fill="rgb(129,129,129)"/><rect x="452" y="304" width="8.5" height="8.5" fill="rgb(129,129,129)"/><rect x="260" y="312" width="8.5" height="8.5" fill="rgb(83,83,83)"/><rect x="268" y="312" width="8.5" height="8.5" fill="rgb(83,83,83)"/><rect x="276" y="312" width="8.5" height="8.5" fill="rgb(83,83,83)"/><rect x="284" y="312" width="8.5" height="8.5" fill="rgb(51,51,51)"/><rect x="292" y="312" width="8.5" height="8.5" fill="rgb(106,106,106)"/><rect x="300" y="312" width="8.5" height="8.5" fill="rgb(106,106,106)"/><rect x="308" y="312" width="8.5" height="8.5" fill="rgb(83,83,83)"/><rect x="316" y="312" width="8.5" height="8.5" fill="rgb(83,83,83)"/><rect x="324" y="312" width="8.5" height="8.5" fill="rgb(51,51,51)"/><rect x="332" y="312" width="8.5" height="8.5" fill="rgb(83,83,83)"/><rect x="340" y="312" width="8.5" height="8.5" fill="rgb(83,83,83)"/><rect x="348" y="312" width="8.5" height="8.5" fill="rgb(83,83,83)"/><rect x="356" y="312" width="8.5" height="8.5" fill="rgb(83,83,83)"/><rect x="364" y="312" width="8.5" height="8.5" fill="rgb(51,51,51)"/><rect x="372" y="312" width="8.5" height="8.5" fill="rgb(31,31,31)"/><rect x="380" y="312" width="8.5" height="8.5" fill="rgb(51,51,51)"/><rect x="388" y="312" width="8.5" height="8.5" fill="rgb(83,83,83)"/><rect x="396" y="312" width="8.5" height="8.5" fill="rgb(106,106,106)"/><rect x="404" y="312" width="8.5" height="8.5" fill="rgb(106,106,106)"/><rect x="412" y="312" width="8.5" height="8.5" fill="rgb(129,129,129)"/><rect x="420" y="312" width="8.5" height="8.5" fill="rgb(129,129,129)"/><rect x="428" y="312" width="8.5" height="8.5" fill="rgb(129,129,129)"/><rect x="436" y="312" width="8.5" height="8.5" fill="rgb(129,129,129)"/><rect x="444" y="312" width="8.5" height="8.5" fill="rgb(129,129,129)"/><rect x="452" y="312" width="8.5" height="8.5" fill="rgb(129,129,129)"/><rect x="260" y="320" width="8.5" height="8.5" fill="rgb(106,106,106)"/><rect x="268" y="320" width="8.5" height="8.5" fill="rgb(106,106,106)"/><rect x="276" y="320" width="8.5" height="8.5" fill="rgb(106,106,106)"/><rect x="284" y="320" width="8.5" height="8.5" fill="rgb(83,83,83)"/><rect x="292" y="320" width="8.5" height="8.5" fill="rgb(83,83,83)"/><rect x="300" y="320" width="8.5" height="8.5" fill="rgb(106,106,106)"/><rect x="308" y="320" width="8.5" height="8.5" fill="rgb(106,106,106)"/><rect x="316" y="320" width="8.5" height="8.5" fill="rgb(51,51,51)"/><rect x="324" y="320" width="8.5" height="8.5" fill="rgb(83,83,83)"/><rect x="332" y="320" width="8.5" height="8.5" fill="rgb(166,166,166)"/><rect x="340" y="320" width="8.5" height="8.5" fill="rgb(129,129,129)"/><rect x="348" y="320" width="8.5" height="8.5" fill="rgb(83,83,83)"/><rect x="356" y="320" width="8.5" height="8.5" fill="rgb(83,83,83)"/><rect x="364" y="320" width="8.5" height="8.5" fill="rgb(83,83,83)"/><rect x="372" y="320" width="8.5" height="8.5" fill="rgb(83,83,83)"/><rect x="380" y="320" width="8.5" height="8.5" fill="rgb(83,83,83)"/><rect x="388" y="320" width="8.5" height="8.5" fill="rgb(83,83,83)"/><rect x="396" y="320" width="8.5" height="8.5" fill="rgb(51,51,51)"/><rect x="404" y="320" width="8.5" height="8.5" fill="rgb(0,0,0)"/><rect x="412" y="320" width="8.5" height="8.5" fill="rgb(0,0,0)"/><rect x="420" y="320" width="8.5" height="8.5" fill="rgb(0,0,0)"/><rect x="428" y="320" width="8.5" height="8.5" fill="rgb(106,106,106)"/><rect x="436" y="320" width="8.5" height="8.5" fill="rgb(129,129,129)"/><rect x="444" y="320" width="8.5" height="8.5" fill="rgb(106,106,106)"/><rect x="452" y="320" width="8.5" height="8.5" fill="rgb(106,106,106)"/><rect x="260" y="328" width="8.5" height="8.5" fill="rgb(129,129,129)"/><rect x="268" y="328" width="8.5" height="8.5" fill="rgb(129,129,129)"/><rect x="276" y="328" width="8.5" height="8.5" fill="rgb(106,106,106)"/><rect x="284" y="328" width="8.5" height="8.5" fill="rgb(83,83,83)"/><rect x="292" y="328" width="8.5" height="8.5" fill="rgb(51,51,51)"/><rect x="300" y="328" width="8.5" height="8.5" fill="rgb(106,106,106)"/><rect x="308" y="328" width="8.5" height="8.5" fill="rgb(106,106,106)"/><rect x="316" y="328" width="8.5" height="8.5" fill="rgb(83,83,83)"/><rect x="324" y="328" width="8.5" height="8.5" fill="rgb(106,106,106)"/><rect x="332" y="328" width="8.5" height="8.5" fill="rgb(166,166,166)"/><rect x="340" y="328" width="8.5" height="8.5" fill="rgb(106,106,106)"/><rect x="348" y="328" width="8.5" height="8.5" fill="rgb(51,51,51)"/><rect x="356" y="328" width="8.5" height="8.5" fill="rgb(31,31,31)"/><rect x="364" y="328" width="8.5" height="8.5" fill="rgb(129,129,129)"/><rect x="372" y="328" width="8.5" height="8.5" fill="rgb(106,106,106)"/><rect x="380" y="328" width="8.5" height="8.5" fill="rgb(83,83,83)"/><rect x="388" y="328" width="8.5" height="8.5" fill="rgb(83,83,83)"/><rect x="396" y="328" width="8.5" height="8.5" fill="rgb(0,0,0)"/><rect x="404" y="328" width="8.5" height="8.5" fill="rgb(0,0,0)"/><rect x="412" y="328" width="8.5" height="8.5" fill="rgb(0,0,0)"/><rect x="420" y="328" width="8.5" height="8.5" fill="rgb(0,0,0)"/><rect x="428" y="328" width="8.5" height="8.5" fill="rgb(0,0,0)"/><rect x="436" y="328" width="8.5" height="8.5" fill="rgb(106,106,106)"/><rect x="444" y="328" width="8.5" height="8.5" fill="rgb(83,83,83)"/><rect x="452" y="328" width="8.5" height="8.5" fill="rgb(83,83,83)"/><rect x="260" y="336" width="8.5" height="8.5" fill="rgb(129,129,129)"/><rect x="268" y="336" width="8.5" height="8.5" fill="rgb(129,129,129)"/><rect x="276" y="336" width="8.5" height="8.5" fill="rgb(129,129,129)"/><rect x="284" y="336" width="8.5" height="8.5" fill="rgb(106,106,106)"/><rect x="292" y="336" width="8.5" height="8.5" fill="rgb(51,51,51)"/><rect x="300" y="336" width="8.5" height="8.5" fill="rgb(106,106,106)"/><rect x="308" y="336" width="8.5" height="8.5" fill="rgb(83,83,83)"/><rect x="316" y="336" width="8.5" height="8.5" fill="rgb(106,106,106)"/><rect x="324" y="336" width="8.5" height="8.5" fill="rgb(129,129,129)"/><rect x="332" y="336" width="8.5" height="8.5" fill="rgb(106,106,106)"/><rect x="340" y="336" width="8.5" height="8.5" fill="rgb(31,31,31)"/><rect x="348" y="336" width="8.5" height="8.5" fill="rgb(7,7,7)"/><rect x="356" y="336" width="8.5" height="8.5" fill="rgb(31,31,31)"/><rect x="364" y="336" width="8.5" height="8.5" fill="rgb(129,129,129)"/><rect x="372" y="336" width="8.5" height="8.5" fill="rgb(106,106,106)"/><rect x="380" y="336" width="8.5" height="8.5" fill="rgb(83,83,83)"/><rect x="388" y="336" width="8.5" height="8.5" fill="rgb(0,0,0)"/><rect x="396" y="336" width="8.5" height="8.5" fill="rgb(0,0,0)"/><rect x="404" y="336" width="8.5" height="8.5" fill="rgb(0,0,0)"/><rect x="412" y="336" width="8.5" height="8.5" fill="rgb(0,0,0)"/><rect x="420" y="336" width="8.5" height="8.5" fill="rgb(0,0,0)"/><rect x="428" y="336" width="8.5" height="8.5" fill="rgb(0,0,0)"/><rect x="436" y="336" width="8.5" height="8.5" fill="rgb(0,0,0)"/><rect x="444" y="336" width="8.5" height="8.5" fill="rgb(51,51,51)"/><rect x="452" y="336" width="8.5" height="8.5" fill="rgb(51,51,51)"/><rect x="260" y="344" width="8.5" height="8.5" fill="rgb(129,129,129)"/><rect x="268" y="344" width="8.5" height="8.5" fill="rgb(129,129,129)"/><rect x="276" y="344" width="8.5" height="8.5" fill="rgb(129,129,129)"/><rect x="284" y="344" width="8.5" height="8.5" fill="rgb(106,106,106)"/><rect x="292" y="344" width="8.5" height="8.5" fill="rgb(83,83,83)"/><rect x="300" y="344" width="8.5" height="8.5" fill="rgb(106,106,106)"/><rect x="308" y="344" width="8.5" height="8.5" fill="rgb(106,106,106)"/><rect x="316" y="344" width="8.5" height="8.5" fill="rgb(129,129,129)"/><rect x="324" y="344" width="8.5" height="8.5" fill="rgb(106,106,106)"/><rect x="332" y="344" width="8.5" height="8.5" fill="rgb(83,83,83)"/><rect x="340" y="344" width="8.5" height="8.5" fill="rgb(31,31,31)"/><rect x="348" y="344" width="8.5" height="8.5" fill="rgb(19,19,19)"/><rect x="356" y="344" width="8.5" height="8.5" fill="rgb(19,19,19)"/><rect x="364" y="344" width="8.5" height="8.5" fill="rgb(129,129,129)"/><rect x="372" y="344" width="8.5" height="8.5" fill="rgb(129,129,129)"/><rect x="380" y="344" width="8.5" height="8.5" fill="rgb(129,129,129)"/><rect x="388" y="344" width="8.5" height="8.5" fill="rgb(83,83,83)"/><rect x="396" y="344" width="8.5" height="8.5" fill="rgb(0,0,0)"/><rect x="404" y="344" width="8.5" height="8.5" fill="rgb(0,0,0)"/><rect x="412" y="344" width="8.5" height="8.5" fill="rgb(0,0,0)"/><rect x="420" y="344" width="8.5" height="8.5" fill="rgb(0,0,0)"/><rect x="428" y="344" width="8.5" height="8.5" fill="rgb(0,0,0)"/><rect x="436" y="344" width="8.5" height="8.5" fill="rgb(0,0,0)"/><rect x="444" y="344" width="8.5" height="8.5" fill="rgb(0,0,0)"/><rect x="452" y="344" width="8.5" height="8.5" fill="rgb(0,0,0)"/><rect x="260" y="352" width="8.5" height="8.5" fill="rgb(0,0,0)"/><rect x="268" y="352" width="8.5" height="8.5" fill="rgb(0,0,0)"/><rect x="276" y="352" width="8.5" height="8.5" fill="rgb(129,129,129)"/><rect x="284" y="352" width="8.5" height="8.5" fill="rgb(106,106,106)"/><rect x="292" y="352" width="8.5" height="8.5" fill="rgb(83,83,83)"/><rect x="300" y="352" width="8.5" height="8.5" fill="rgb(83,83,83)"/><rect x="308" y="352" width="8.5" height="8.5" fill="rgb(129,129,129)"/><rect x="316" y="352" width="8.5" height="8.5" fill="rgb(106,106,106)"/><rect x="324" y="352" width="8.5" height="8.5" fill="rgb(83,83,83)"/><rect x="332" y="352" width="8.5" height="8.5" fill="rgb(83,83,83)"/><rect x="340" y="352" width="8.5" height="8.5" fill="rgb(31,31,31)"/><rect x="348" y="352" width="8.5" height="8.5" fill="rgb(7,7,7)"/><rect x="356" y="352" width="8.5" height="8.5" fill="rgb(19,19,19)"/><rect x="364" y="352" width="8.5" height="8.5" fill="rgb(106,106,106)"/><rect x="372" y="352" width="8.5" height="8.5" fill="rgb(129,129,129)"/><rect x="380" y="352" width="8.5" height="8.5" fill="rgb(106,106,106)"/><rect x="388" y="352" width="8.5" height="8.5" fill="rgb(83,83,83)"/><rect x="396" y="352" width="8.5" height="8.5" fill="rgb(0,0,0)"/><rect x="404" y="352" width="8.5" height="8.5" fill="rgb(0,0,0)"/><rect x="412" y="352" width="8.5" height="8.5" fill="rgb(0,0,0)"/><rect x="420" y="352" width="8.5" height="8.5" fill="rgb(0,0,0)"/><rect x="428" y="352" width="8.5" height="8.5" fill="rgb(0,0,0)"/><rect x="436" y="352" width="8.5" height="8.5" fill="rgb(0,0,0)"/><rect x="444" y="352" width="8.5" height="8.5" fill="rgb(0,0,0)"/><rect x="452" y="352" width="8.5" height="8.5" fill="rgb(0,0,0)"/><rect x="260" y="360" width="8.5" height="8.5" fill="rgb(0,0,0)"/><rect x="268" y="360" width="8.5" height="8.5" fill="rgb(0,0,0)"/><rect x="276" y="360" width="8.5" height="8.5" fill="rgb(129,129,129)"/><rect x="284" y="360" width="8.5" height="8.5" fill="rgb(83,83,83)"/><rect x="292" y="360" width="8.5" height="8.5" fill="rgb(83,83,83)"/><rect x="300" y="360" width="8.5" height="8.5" fill="rgb(83,83,83)"/><rect x="308" y="360" width="8.5" height="8.5" fill="rgb(106,106,106)"/><rect x="316" y="360" width="8.5" height="8.5" fill="rgb(106,106,106)"/><rect x="324" y="360" width="8.5" height="8.5" fill="rgb(83,83,83)"/><rect x="332" y="360" width="8.5" height="8.5" fill="rgb(83,83,83)"/><rect x="340" y="360" width="8.5" height="8.5" fill="rgb(51,51,51)"/><rect x="348" y="360" width="8.5" height="8.5" fill="rgb(19,19,19)"/><rect x="356" y="360" width="8.5" height="8.5" fill="rgb(19,19,19)"/><rect x="364" y="360" width="8.5" height="8.5" fill="rgb(83,83,83)"/><rect x="372" y="360" width="8.5" height="8.5" fill="rgb(83,83,83)"/><rect x="380" y="360" width="8.5" height="8.5" fill="rgb(83,83,83)"/><rect x="388" y="360" width="8.5" height="8.5" fill="rgb(83,83,83)"/><rect x="396" y="360" width="8.5" height="8.5" fill="rgb(0,0,0)"/><rect x="404" y="360" width="8.5" height="8.5" fill="rgb(0,0,0)"/><rect x="412" y="360" width="8.5" height="8.5" fill="rgb(0,0,0)"/><rect x="420" y="360" width="8.5" height="8.5" fill="rgb(0,0,0)"/><rect x="428" y="360" width="8.5" height="8.5" fill="rgb(0,0,0)"/><rect x="436" y="360" width="8.5" height="8.5" fill="rgb(0,0,0)"/><rect x="444" y="360" width="8.5" height="8.5" fill="rgb(0,0,0)"/><rect x="452" y="360" width="8.5" height="8.5" fill="rgb(0,0,0)"/><rect x="260" y="368" width="8.5" height="8.5" fill="rgb(0,0,0)"/><rect x="268" y="368" width="8.5" height="8.5" fill="rgb(0,0,0)"/><rect x="276" y="368" width="8.5" height="8.5" fill="rgb(129,129,129)"/><rect x="284" y="368" width="8.5" height="8.5" fill="rgb(83,83,83)"/><rect x="292" y="368" width="8.5" height="8.5" fill="rgb(83,83,83)"/><rect x="300" y="368" width="8.5" height="8.5" fill="rgb(83,83,83)"/><rect x="308" y="368" width="8.5" height="8.5" fill="rgb(106,106,106)"/><rect x="316" y="368" width="8.5" height="8.5" fill="rgb(106,106,106)"/><rect x="324" y="368" width="8.5" height="8.5" fill="rgb(83,83,83)"/><rect x="332" y="368" width="8.5" height="8.5" fill="rgb(83,83,83)"/><rect x="340" y="368" width="8.5" height="8.5" fill="rgb(51,51,51)"/><rect x="348" y="368" width="8.5" height="8.5" fill="rgb(19,19,19)"/><rect x="356" y="368" width="8.5" height="8.5" fill="rgb(19,19,19)"/><rect x="364" y="368" width="8.5" height="8.5" fill="rgb(83,83,83)"/><rect x="372" y="368" width="8.5" height="8.5" fill="rgb(83,83,83)"/><rect x="380" y="368" width="8.5" height="8.5" fill="rgb(83,83,83)"/><rect x="388" y="368" width="8.5" height="8.5" fill="rgb(83,83,83)"/><rect x="396" y="368" width="8.5" height="8.5" fill="rgb(0,0,0)"/><rect x="404" y="368" width="8.5" height="8.5" fill="rgb(0,0,0)"/><rect x="412" y="368" width="8.5" height="8.5" fill="rgb(0,0,0)"/><rect x="420" y="368" width="8.5" height="8.5" fill="rgb(0,0,0)"/><rect x="428" y="368" width="8.5" height="8.5" fill="rgb(0,0,0)"/><rect x="436" y="368" width="8.5" height="8.5" fill="rgb(0,0,0)"/><rect x="444" y="368" width="8.5" height="8.5" fill="rgb(0,0,0)"/><rect x="452" y="368" width="8.5" height="8.5" fill="rgb(0,0,0)"/></g>
<polygon points="330.8,20.0 330.8,24.0 327.0,31.4 321.5,37.8 314.0,41.5 313.0,48.0 323.4,51.7 341.8,51.3 364.0,52.6 369.5,49.8 375.1,44.3 382.5,36.9 389.0,35.0 394.5,40.0 390.0,48.5 384.0,52.0 388.0,54.5 393.5,58.2 400.9,62.8 408.3,65.5 409.2,72.0 403.7,79.4 400.9,84.9 403.7,92.3 410.2,96.0 410.2,104.0 407.4,104.0 408.3,113.2 413.8,120.5 425.0,122.5 455.0,122.5 455.0,30.5 449.3,30.5 437.8,29.7 424.9,29.7 417.5,32.0 405.5,28.4 403.7,24.0 403.7,20.0" fill="#000" stroke="#000" stroke-width="1.8" stroke-linejoin="round"/><polygon points="397.2,134.5 400.0,128.0 407.4,125.2 403.7,129.8 399.0,134.5" fill="#000" stroke="#000" stroke-width="1.8" stroke-linejoin="round"/><polygon points="421.0,178.2 435.5,176.9 455.0,177.5 455.0,256.0 443.4,255.0 437.8,245.0 434.0,237.5 428.6,233.8 425.8,239.4 419.4,241.2 413.8,233.8 409.2,230.2 406.5,226.5 413.8,218.2 423.0,221.0 428.6,223.7 437.8,217.2 445.2,215.4 445.0,184.5 435.0,182.4 427.0,181.0" fill="#000" stroke="#000" stroke-width="1.8" stroke-linejoin="round"/><polygon points="403.7,325.0 407.4,319.4 413.8,318.5 419.4,321.2 426.8,323.0 431.4,327.7 435.0,336.0 439.7,340.0 447.0,344.0 455.0,345.5 455.0,370.0 401.8,370.0 401.8,362.0 399.0,357.5 397.2,352.0 398.2,344.6 391.7,342.8 389.8,339.0 395.4,333.5 398.2,330.5" fill="#000" stroke="#000" stroke-width="1.8" stroke-linejoin="round"/><polygon points="262.0,69.5 275.0,69.5 275.4,80.0 262.0,80.0" fill="#000" stroke="#000" stroke-width="1.8" stroke-linejoin="round"/><polygon points="262.0,356.5 271.5,356.5 271.5,370.0 262.0,370.0" fill="#000" stroke="#000" stroke-width="1.8" stroke-linejoin="round"/>
</g>
</g>

<g class="hm">
<line x1="265" x2="268" y1="48.8" y2="48.8" stroke="#889" stroke-width="0.7"/><text x="259.7" y="57.5" text-anchor="end">20</text><line x1="265" x2="268" y1="87.7" y2="87.7" stroke="#889" stroke-width="0.7"/><text x="259.7" y="95.9" text-anchor="end">10</text><line x1="265" x2="268" y1="126.0" y2="126.0" stroke="#889" stroke-width="0.7"/><text x="259.7" y="134.0" text-anchor="end">0</text><line x1="265" x2="268" y1="164.0" y2="164.0" stroke="#889" stroke-width="0.7"/><text x="259.7" y="171.2" text-anchor="end">-10</text><line x1="265" x2="268" y1="204.1" y2="204.1" stroke="#889" stroke-width="0.7"/><text x="259.7" y="213.3" text-anchor="end">-20</text><line x1="265" x2="268" y1="244.7" y2="244.7" stroke="#889" stroke-width="0.7"/><text x="259.7" y="253.4" text-anchor="end">-30</text><line x1="265" x2="268" y1="285.0" y2="285.0" stroke="#889" stroke-width="0.7"/><text x="259.7" y="292.7" text-anchor="end">-40</text><line x1="265" x2="268" y1="323.7" y2="323.7" stroke="#889" stroke-width="0.7"/><text x="259.7" y="330.4" text-anchor="end">-50</text><line x1="265" x2="268" y1="360.7" y2="360.7" stroke="#889" stroke-width="0.7"/><text x="259.7" y="366.4" text-anchor="end">-60</text><line y1="362.5" y2="365" x1="286.0" x2="286.0" stroke="#99a" stroke-width="0.7"/><text y="381.7" x="287.0" text-anchor="middle">0</text><line y1="362.5" y2="365" x1="324.9" x2="324.9" stroke="#99a" stroke-width="0.7"/><text y="381.7" x="327.3" text-anchor="middle">10</text><line y1="362.5" y2="365" x1="363.8" x2="363.8" stroke="#99a" stroke-width="0.7"/><text y="381.7" x="366.5" text-anchor="middle">20</text><line y1="362.5" y2="365" x1="402.7" x2="402.7" stroke="#99a" stroke-width="0.7"/><text y="381.7" x="404.2" text-anchor="middle">30</text><line y1="362.5" y2="365" x1="441.6" x2="441.6" stroke="#99a" stroke-width="0.7"/><text y="381.7" x="441.5" text-anchor="middle">40</text>
<text x="366.5" y="399" text-anchor="middle" style="font-size:13.2px">x (&#956;m)</text>
<text transform="translate(226,182.5) rotate(-90)" text-anchor="middle" style="font-size:13.2px">y (&#956;m)</text>
</g>

<g class="cb">
<rect x="461" y="80.5" width="14" height="227" fill="url(#cbg)"/>
<line x1="475" x2="480" y1="308.0" y2="308.0" stroke="#667" stroke-width="0.8"/><text x="483.8" y="312.0">0</text><line x1="475" x2="480" y1="292.9" y2="292.9" stroke="#667" stroke-width="0.8"/><text x="483.8" y="296.9">0.2</text><line x1="475" x2="480" y1="277.7" y2="277.7" stroke="#667" stroke-width="0.8"/><text x="483.8" y="281.7">0.4</text><line x1="475" x2="480" y1="262.6" y2="262.6" stroke="#667" stroke-width="0.8"/><text x="483.8" y="266.6">0.6</text><line x1="475" x2="480" y1="247.4" y2="247.4" stroke="#667" stroke-width="0.8"/><text x="483.8" y="251.4">0.8</text><line x1="475" x2="480" y1="232.3" y2="232.3" stroke="#667" stroke-width="0.8"/><text x="483.8" y="236.3">1</text><line x1="475" x2="480" y1="217.2" y2="217.2" stroke="#667" stroke-width="0.8"/><text x="483.8" y="221.2">1.2</text><line x1="475" x2="480" y1="202.0" y2="202.0" stroke="#667" stroke-width="0.8"/><text x="483.8" y="206.0">1.4</text><line x1="475" x2="480" y1="186.9" y2="186.9" stroke="#667" stroke-width="0.8"/><text x="483.8" y="190.9">1.6</text><line x1="475" x2="480" y1="171.7" y2="171.7" stroke="#667" stroke-width="0.8"/><text x="483.8" y="175.7">1.8</text><line x1="475" x2="480" y1="156.6" y2="156.6" stroke="#667" stroke-width="0.8"/><text x="483.8" y="160.6">2</text><line x1="475" x2="480" y1="141.5" y2="141.5" stroke="#667" stroke-width="0.8"/><text x="483.8" y="145.5">2.2</text><line x1="475" x2="480" y1="126.3" y2="126.3" stroke="#667" stroke-width="0.8"/><text x="483.8" y="130.3">2.4</text><line x1="475" x2="480" y1="111.2" y2="111.2" stroke="#667" stroke-width="0.8"/><text x="483.8" y="115.2">2.6</text><line x1="475" x2="480" y1="96.0" y2="96.0" stroke="#667" stroke-width="0.8"/><text x="483.8" y="100.0">2.8</text>
<text x="456.5" y="71.2" style="font-size:13.5px">A<tspan dy="3" style="font-size:10.4px">D1</tspan><tspan dy="-3">/A</tspan><tspan dy="3" style="font-size:10.4px">G</tspan></text>
<text transform="translate(509.3,82.7) rotate(90)" textLength="223.5" lengthAdjust="spacingAndGlyphs" style="font-size:12.5px">Non-Dimensional Aerial Intensity Ratio</text>
</g>

<g>
<line x1="297.5" y1="134.5" x2="213.7" y2="86.0" stroke="#d8201e" stroke-width="2.1" stroke-dasharray="2.1 2.5"/><polygon points="205.0,81.0 216.0,81.9 211.3,90.1" fill="#e8141c"/>
<line x1="425.0" y1="281.5" x2="207.5" y2="213.5" stroke="#d8201e" stroke-width="2.1" stroke-dasharray="2.1 2.5"/><polygon points="198.0,210.5 209.0,209.0 206.1,218.0" fill="#e8141c"/>
<line x1="330.5" y1="298.5" x2="228.3" y2="353.3" stroke="#d8201e" stroke-width="2.1" stroke-dasharray="2.1 2.5"/><polygon points="219.5,358.0 226.1,349.1 230.6,357.5" fill="#e8141c"/>
<circle cx="297.5" cy="134.5" r="8.5" fill="none" stroke="#c8141c" stroke-width="2.1"/>
<circle cx="425" cy="281.5" r="8.5" fill="none" stroke="#d8141c" stroke-width="2.1"/>
<circle cx="330.5" cy="298.5" r="8.5" fill="none" stroke="#c0281c" stroke-width="2.1"/>
</g>
</svg>
</body></html>
